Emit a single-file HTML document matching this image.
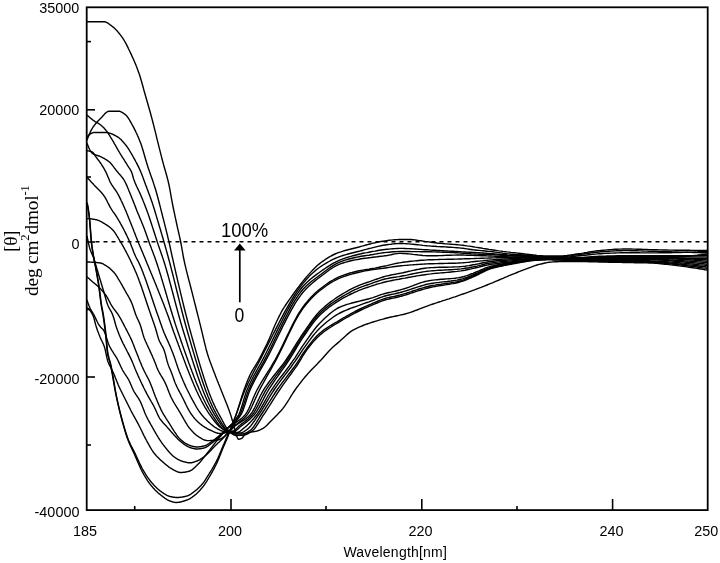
<!DOCTYPE html>
<html>
<head>
<meta charset="utf-8">
<title>CD spectra</title>
<style>
html,body{margin:0;padding:0;background:#fff;}
body{width:720px;height:563px;overflow:hidden;position:relative;font-family:"Liberation Sans",sans-serif;color:#000;}
svg{position:absolute;left:0;top:0;}
.lab{position:absolute;font-size:14.4px;line-height:14.4px;white-space:nowrap;}
.yl{text-align:right;width:70px;left:9.4px;}
.xl{text-align:center;width:60px;}
.ser{font-family:"Liberation Serif",serif;}
</style>
</head>
<body>
<svg width="720" height="563" viewBox="0 0 720 563">
<rect x="0" y="0" width="720" height="563" fill="#fff"/>
<g fill="none" stroke="#000" stroke-width="1.4" stroke-linejoin="round">
<path d="M87.0 202.5 L87.5 204.3 L88.0 206.8 L88.5 210.0 L89.0 213.7 L89.5 217.8 L90.0 222.8 L90.5 229.5 L91.0 236.4 L91.5 242.0 L92.0 246.0 L92.5 249.5 L93.0 252.6 L93.5 255.6 L94.0 258.4 L94.5 260.9 L95.0 263.4 L95.5 265.8 L96.0 268.3 L96.5 271.0 L97.0 273.8 L97.5 276.7 L98.0 279.6 L98.5 282.7 L99.0 286.0 L99.5 289.6 L100.0 293.6 L100.5 297.7 L101.0 301.6 L101.5 305.0 L102.0 307.8 L102.5 310.2 L103.0 312.7 L103.5 315.6 L104.0 318.9 L104.5 322.5 L105.0 326.3 L105.5 330.3 L106.0 334.7 L106.5 340.0 L107.0 345.8 L107.5 350.7 L108.0 353.9 L108.5 356.3 L109.0 358.2 L109.5 359.9 L110.0 361.5 L110.5 363.3 L111.0 365.5 L111.5 367.9 L112.0 370.5 L112.5 373.3 L113.0 376.2 L113.5 379.1 L114.0 382.2 L114.5 385.2 L115.0 388.1 L115.5 391.0 L116.0 393.7 L116.5 396.3 L117.0 398.7 L117.5 401.2 L118.0 403.5 L118.5 405.9 L119.0 408.1 L119.5 410.3 L120.0 412.5 L120.5 414.5 L121.0 416.5 L121.5 418.5 L122.0 420.4 L122.5 422.2 L123.0 424.1 L123.5 425.9 L124.0 427.6 L124.5 429.3 L125.0 431.0 L125.5 432.6 L126.0 434.2 L126.5 435.8 L127.0 437.2 L127.5 438.6 L128.0 440.0 L128.5 441.3 L129.0 442.5 L129.5 443.7 L130.0 444.8 L130.5 445.9 L131.0 447.0 L131.5 448.0 L132.0 449.1 L132.5 450.1 L133.0 451.1 L133.5 452.2 L134.0 453.3 L134.5 454.4 L135.0 455.6 L135.5 456.7 L136.0 457.9 L136.5 459.0 L137.0 460.2 L137.5 461.4 L138.0 462.5 L138.5 463.7 L139.0 464.8 L139.5 465.9 L140.0 467.0 L140.5 468.1 L141.0 469.2 L141.5 470.2 L142.0 471.1 L142.5 472.1 L143.0 473.0 L143.5 473.9 L144.0 474.8 L144.5 475.6 L145.0 476.5 L145.5 477.4 L146.0 478.2 L146.5 479.0 L147.0 479.8 L147.5 480.6 L148.0 481.3 L148.5 482.0 L149.0 482.8 L149.5 483.4 L150.0 484.1 L150.5 484.8 L151.0 485.4 L151.5 486.0 L152.0 486.6 L152.5 487.1 L153.0 487.7 L153.5 488.3 L154.0 488.8 L154.5 489.3 L155.0 489.9 L155.5 490.4 L156.0 490.9 L156.5 491.3 L157.0 491.8 L157.5 492.3 L158.0 492.7 L158.5 493.2 L159.0 493.6 L159.5 494.0 L160.0 494.4 L160.5 494.8 L161.0 495.2 L161.5 495.6 L162.0 496.0 L162.5 496.4 L163.0 496.8 L163.5 497.2 L164.0 497.5 L164.5 497.9 L165.0 498.3 L165.5 498.6 L166.0 498.9 L166.5 499.3 L167.0 499.6 L167.5 499.8 L168.0 500.1 L168.5 500.4 L169.0 500.6 L169.5 500.8 L170.0 501.0 L170.5 501.2 L171.0 501.4 L171.5 501.5 L172.0 501.7 L172.5 501.9 L173.0 502.0 L173.5 502.1 L174.0 502.3 L174.5 502.4 L175.0 502.4 L175.5 502.5 L176.0 502.5 L176.5 502.5 L177.0 502.5 L177.5 502.4 L178.0 502.4 L178.5 502.3 L179.0 502.2 L179.5 502.2 L180.0 502.1 L180.5 502.0 L181.0 501.8 L181.5 501.7 L182.0 501.6 L182.5 501.4 L183.0 501.3 L183.5 501.2 L184.0 501.0 L184.5 500.8 L185.0 500.7 L185.5 500.5 L186.0 500.3 L186.5 500.2 L187.0 500.0 L187.5 499.8 L188.0 499.6 L188.5 499.4 L189.0 499.1 L189.5 498.9 L190.0 498.6 L190.5 498.3 L191.0 497.9 L191.5 497.6 L192.0 497.3 L192.5 496.9 L193.0 496.5 L193.5 496.2 L194.0 495.8 L194.5 495.4 L195.0 495.0 L195.5 494.6 L196.0 494.2 L196.5 493.7 L197.0 493.3 L197.5 492.8 L198.0 492.3 L198.5 491.8 L199.0 491.3 L199.5 490.7 L200.0 490.2 L200.5 489.6 L201.0 489.1 L201.5 488.5 L202.0 487.9 L202.5 487.3 L203.0 486.6 L203.5 486.0 L204.0 485.3 L204.5 484.6 L205.0 483.8 L205.5 483.1 L206.0 482.3 L206.5 481.5 L207.0 480.8 L207.5 480.0 L208.0 479.1 L208.5 478.3 L209.0 477.5 L209.5 476.7 L210.0 475.8 L210.5 475.0 L211.0 474.1 L211.5 473.2 L212.0 472.3 L212.5 471.4 L213.0 470.5 L213.5 469.6 L214.0 468.7 L214.5 467.7 L215.0 466.7 L215.5 465.7 L216.0 464.7 L216.5 463.7 L217.0 462.6 L217.5 461.6 L218.0 460.4 L218.5 459.3 L219.0 458.1 L219.5 456.8 L220.0 455.6 L220.5 454.3 L221.0 453.0 L221.5 451.7 L222.0 450.5 L222.5 449.2 L223.0 448.0 L223.5 446.8 L224.0 445.7 L224.5 444.5 L225.0 443.4 L225.5 442.3 L226.0 441.1 L226.5 440.0 L227.0 438.7 L227.5 437.5 L228.0 436.2 L228.5 434.8 L229.0 433.4 L229.5 432.0 L230.0 430.6 L230.5 429.1 L231.0 427.7 L231.5 426.3 L232.0 425.0 L232.5 423.7 L233.0 422.5 L233.5 421.3 L234.0 420.1 L234.5 418.8 L235.0 417.6 L235.5 416.3 L236.0 415.0 L236.5 413.6 L237.0 412.1 L237.5 410.6 L238.0 409.0 L238.5 407.4 L239.0 405.8 L239.5 404.2 L240.0 402.5 L240.5 400.9 L241.0 399.2 L241.5 397.6 L242.0 396.0 L242.5 394.4 L243.0 392.9 L243.5 391.4 L244.0 390.0 L244.5 388.6 L245.0 387.3 L245.5 385.9 L246.0 384.6 L246.5 383.3 L247.0 382.0 L247.5 380.7 L248.0 379.5 L248.5 378.3 L249.0 377.2 L249.5 376.1 L250.0 375.0 L250.5 374.0 L251.0 373.0 L251.5 372.1 L252.0 371.2 L252.5 370.3 L253.0 369.5 L253.5 368.7 L254.0 367.9 L254.5 367.1 L255.0 366.3 L255.5 365.5 L256.0 364.7 L256.5 363.9 L257.0 363.0 L257.5 362.2 L258.0 361.3 L258.5 360.5 L259.0 359.5 L259.5 358.6 L261.0 355.8 L263.0 351.9 L265.0 347.9 L267.0 343.8 L269.0 339.4 L271.0 334.7 L273.0 329.7 L275.0 325.0 L277.0 320.7 L279.0 316.6 L281.0 312.7 L283.0 309.2 L285.0 306.0 L287.0 303.0 L289.0 300.2 L291.0 297.3 L293.0 294.5 L295.0 291.7 L297.0 289.0 L299.0 286.3 L301.0 283.7 L303.0 281.1 L305.0 278.7 L307.0 276.4 L309.0 274.1 L311.0 271.9 L313.0 269.7 L315.0 267.7 L317.0 265.8 L319.0 264.1 L321.0 262.5 L323.0 261.1 L325.0 259.7 L327.0 258.4 L329.0 257.1 L331.0 256.0 L333.0 255.0 L335.0 254.0 L337.0 253.2 L339.0 252.4 L341.0 251.8 L343.0 251.1 L345.0 250.5 L347.0 250.0 L349.0 249.5 L351.0 249.0 L353.0 248.5 L355.0 248.0 L357.0 247.5 L359.0 247.0 L361.0 246.4 L363.0 245.9 L365.0 245.3 L367.0 244.8 L369.0 244.2 L371.0 243.7 L373.0 243.1 L375.0 242.7 L377.0 242.2 L379.0 241.9 L381.0 241.5 L383.0 241.2 L385.0 240.9 L387.0 240.6 L389.0 240.3 L391.0 240.1 L393.0 239.9 L395.0 239.7 L397.0 239.6 L399.0 239.5 L401.0 239.5 L403.0 239.5 L405.0 239.5 L407.0 239.5 L409.0 239.5 L411.0 239.5 L413.0 239.7 L415.0 239.9 L417.0 240.3 L419.0 240.6 L421.0 240.8 L423.0 241.1 L425.0 241.4 L427.0 241.6 L429.0 241.9 L431.0 242.2 L433.0 242.5 L435.0 242.7 L437.0 243.0 L439.0 243.2 L441.0 243.4 L443.0 243.6 L445.0 243.8 L447.0 243.9 L449.0 244.1 L451.0 244.2 L453.0 244.4 L455.0 244.5 L457.0 244.7 L459.0 244.9 L461.0 245.1 L463.0 245.3 L465.0 245.6 L467.0 245.9 L469.0 246.1 L471.0 246.4 L473.0 246.7 L475.0 247.1 L477.0 247.4 L479.0 247.7 L481.0 248.0 L483.0 248.4 L485.0 248.7 L487.0 249.0 L489.0 249.4 L491.0 249.7 L493.0 250.0 L495.0 250.3 L497.0 250.6 L499.0 250.9 L501.0 251.1 L503.0 251.4 L505.0 251.6 L507.0 251.9 L509.0 252.1 L511.0 252.4 L513.0 252.6 L515.0 252.8 L517.0 253.1 L519.0 253.3 L521.0 253.5 L523.0 253.7 L525.0 254.0 L527.0 254.2 L529.0 254.4 L531.0 254.6 L533.0 254.9 L535.0 255.1 L537.0 255.4 L539.0 255.6 L541.0 255.8 L543.0 256.0 L545.0 256.0 L547.0 256.0 L549.0 256.0 L551.0 256.0 L553.0 256.0 L555.0 256.0 L557.0 256.0 L559.0 256.0 L561.0 256.0 L563.0 255.9 L565.0 255.7 L567.0 255.5 L569.0 255.2 L571.0 254.9 L573.0 254.6 L575.0 254.3 L577.0 253.9 L579.0 253.6 L581.0 253.4 L583.0 253.1 L585.0 252.7 L587.0 252.4 L589.0 252.0 L591.0 251.7 L593.0 251.4 L595.0 251.1 L597.0 250.8 L599.0 250.6 L601.0 250.4 L603.0 250.2 L605.0 250.1 L607.0 249.9 L609.0 249.7 L611.0 249.6 L613.0 249.4 L615.0 249.3 L617.0 249.2 L619.0 249.1 L621.0 249.1 L623.0 249.0 L625.0 249.0 L627.0 249.0 L629.0 249.0 L631.0 249.0 L633.0 249.1 L635.0 249.1 L637.0 249.2 L639.0 249.2 L641.0 249.3 L643.0 249.4 L645.0 249.4 L647.0 249.5 L649.0 249.6 L651.0 249.6 L653.0 249.7 L655.0 249.8 L657.0 249.8 L659.0 249.9 L661.0 249.9 L663.0 250.0 L665.0 250.0 L667.0 250.0 L669.0 250.1 L671.0 250.1 L673.0 250.1 L675.0 250.2 L677.0 250.2 L679.0 250.2 L681.0 250.2 L683.0 250.3 L685.0 250.3 L687.0 250.3 L689.0 250.3 L691.0 250.4 L693.0 250.4 L695.0 250.4 L697.0 250.4 L699.0 250.4 L701.0 250.5 L703.0 250.5 L705.0 250.5 L707.0 250.5"/>
<path d="M87.0 203.5 L87.5 205.4 L88.0 208.1 L88.5 211.5 L89.0 215.3 L89.5 219.5 L90.0 225.4 L90.5 232.3 L91.0 238.9 L91.5 243.7 L92.0 247.5 L92.5 250.8 L93.0 253.8 L93.5 256.8 L94.0 259.5 L94.5 262.1 L95.0 264.7 L95.5 267.2 L96.0 269.9 L96.5 272.7 L97.0 275.6 L97.5 278.5 L98.0 281.5 L98.5 284.7 L99.0 288.1 L99.5 292.0 L100.0 296.0 L100.5 300.0 L101.0 303.7 L101.5 306.8 L102.0 309.5 L102.5 312.1 L103.0 315.0 L103.5 318.3 L104.0 321.8 L104.5 325.6 L105.0 329.6 L105.5 333.8 L106.0 338.7 L106.5 344.3 L107.0 349.5 L107.5 353.1 L108.0 355.6 L108.5 357.7 L109.0 359.5 L109.5 361.1 L110.0 362.9 L110.5 365.0 L111.0 367.4 L111.5 370.0 L112.0 372.7 L112.5 375.5 L113.0 378.4 L113.5 381.3 L114.0 384.2 L114.5 387.1 L115.0 389.9 L115.5 392.5 L116.0 395.0 L116.5 397.3 L117.0 399.6 L117.5 401.8 L118.0 403.9 L118.5 406.0 L119.0 408.0 L119.5 410.0 L120.0 411.9 L120.5 413.8 L121.0 415.7 L121.5 417.5 L122.0 419.3 L122.5 421.1 L123.0 422.9 L123.5 424.6 L124.0 426.4 L124.5 428.1 L125.0 429.7 L125.5 431.4 L126.0 432.9 L126.5 434.5 L127.0 436.0 L127.5 437.4 L128.0 438.7 L128.5 440.0 L129.0 441.2 L129.5 442.4 L130.0 443.4 L130.5 444.5 L131.0 445.5 L131.5 446.5 L132.0 447.4 L132.5 448.4 L133.0 449.3 L133.5 450.3 L134.0 451.3 L134.5 452.3 L135.0 453.3 L135.5 454.4 L136.0 455.5 L136.5 456.6 L137.0 457.6 L137.5 458.7 L138.0 459.8 L138.5 460.9 L139.0 462.0 L139.5 463.1 L140.0 464.1 L140.5 465.1 L141.0 466.1 L141.5 467.1 L142.0 468.1 L142.5 469.0 L143.0 469.8 L143.5 470.7 L144.0 471.5 L144.5 472.4 L145.0 473.2 L145.5 474.0 L146.0 474.8 L146.5 475.6 L147.0 476.3 L147.5 477.1 L148.0 477.8 L148.5 478.5 L149.0 479.2 L149.5 479.9 L150.0 480.5 L150.5 481.2 L151.0 481.8 L151.5 482.4 L152.0 482.9 L152.5 483.5 L153.0 484.1 L153.5 484.6 L154.0 485.2 L154.5 485.7 L155.0 486.2 L155.5 486.7 L156.0 487.2 L156.5 487.7 L157.0 488.2 L157.5 488.7 L158.0 489.1 L158.5 489.5 L159.0 490.0 L159.5 490.4 L160.0 490.8 L160.5 491.1 L161.0 491.5 L161.5 491.9 L162.0 492.2 L162.5 492.6 L163.0 492.9 L163.5 493.2 L164.0 493.6 L164.5 493.9 L165.0 494.2 L165.5 494.5 L166.0 494.8 L166.5 495.1 L167.0 495.4 L167.5 495.6 L168.0 495.8 L168.5 496.0 L169.0 496.2 L169.5 496.4 L170.0 496.5 L170.5 496.6 L171.0 496.7 L171.5 496.8 L172.0 496.9 L172.5 497.0 L173.0 497.1 L173.5 497.2 L174.0 497.3 L174.5 497.3 L175.0 497.4 L175.5 497.4 L176.0 497.5 L176.5 497.5 L177.0 497.5 L177.5 497.5 L178.0 497.5 L178.5 497.5 L179.0 497.4 L179.5 497.4 L180.0 497.3 L180.5 497.3 L181.0 497.2 L181.5 497.1 L182.0 497.1 L182.5 497.0 L183.0 496.9 L183.5 496.8 L184.0 496.7 L184.5 496.6 L185.0 496.5 L185.5 496.4 L186.0 496.2 L186.5 496.1 L187.0 496.0 L187.5 495.9 L188.0 495.7 L188.5 495.5 L189.0 495.2 L189.5 495.0 L190.0 494.7 L190.5 494.3 L191.0 494.0 L191.5 493.7 L192.0 493.3 L192.5 492.9 L193.0 492.5 L193.5 492.2 L194.0 491.8 L194.5 491.4 L195.0 491.0 L195.5 490.6 L196.0 490.2 L196.5 489.8 L197.0 489.4 L197.5 488.9 L198.0 488.5 L198.5 488.0 L199.0 487.5 L199.5 487.0 L200.0 486.5 L200.5 486.0 L201.0 485.5 L201.5 484.9 L202.0 484.3 L202.5 483.8 L203.0 483.1 L203.5 482.5 L204.0 481.8 L204.5 481.1 L205.0 480.4 L205.5 479.6 L206.0 478.8 L206.5 478.0 L207.0 477.2 L207.5 476.4 L208.0 475.6 L208.5 474.8 L209.0 474.0 L209.5 473.2 L210.0 472.4 L210.5 471.6 L211.0 470.8 L211.5 470.0 L212.0 469.1 L212.5 468.3 L213.0 467.4 L213.5 466.6 L214.0 465.7 L214.5 464.8 L215.0 463.9 L215.5 463.0 L216.0 462.1 L216.5 461.1 L217.0 460.1 L217.5 459.1 L218.0 458.0 L218.5 456.9 L219.0 455.7 L219.5 454.6 L220.0 453.3 L220.5 452.1 L221.0 450.9 L221.5 449.6 L222.0 448.4 L222.5 447.2 L223.0 446.0 L223.5 444.8 L224.0 443.7 L224.5 442.5 L225.0 441.3 L225.5 440.2 L226.0 439.0 L226.5 437.8 L227.0 436.7 L227.5 435.5 L228.0 434.4 L228.5 433.3 L229.0 432.2 L229.5 431.1 L230.0 429.9 L230.5 428.8 L231.0 427.7 L231.5 426.6 L232.0 425.4 L232.5 424.2 L233.0 423.0 L233.5 421.7 L234.0 420.5 L234.5 419.1 L235.0 417.8 L235.5 416.4 L236.0 415.0 L236.5 413.6 L237.0 412.1 L237.5 410.7 L238.0 409.2 L238.5 407.8 L239.0 406.3 L239.5 404.8 L240.0 403.4 L240.5 401.9 L241.0 400.5 L241.5 399.1 L242.0 397.7 L242.5 396.3 L243.0 395.0 L243.5 393.7 L244.0 392.4 L244.5 391.2 L245.0 390.0 L245.5 388.8 L246.0 387.7 L246.5 386.6 L247.0 385.5 L247.5 384.4 L248.0 383.3 L248.5 382.3 L249.0 381.2 L249.5 380.2 L250.0 379.2 L250.5 378.1 L251.0 377.1 L251.5 376.2 L252.0 375.2 L252.5 374.2 L253.0 373.2 L253.5 372.3 L254.0 371.3 L254.5 370.4 L255.0 369.4 L255.5 368.5 L256.0 367.5 L256.5 366.6 L257.0 365.7 L257.5 364.7 L258.0 363.8 L258.5 362.8 L259.0 361.9 L259.5 360.9 L261.0 358.1 L263.0 354.2 L265.0 350.3 L267.0 346.4 L269.0 342.4 L271.0 338.5 L273.0 334.5 L275.0 330.6 L277.0 326.6 L279.0 322.7 L281.0 318.9 L283.0 315.1 L285.0 311.4 L287.0 307.8 L289.0 304.3 L291.0 300.9 L293.0 297.6 L295.0 294.4 L297.0 291.4 L299.0 288.6 L301.0 285.9 L303.0 283.4 L305.0 281.0 L307.0 278.8 L309.0 276.6 L311.0 274.6 L313.0 272.7 L315.0 270.9 L317.0 269.2 L319.0 267.7 L321.0 266.3 L323.0 265.0 L325.0 263.8 L327.0 262.6 L329.0 261.5 L331.0 260.4 L333.0 259.4 L335.0 258.5 L337.0 257.7 L339.0 256.9 L341.0 256.1 L343.0 255.5 L345.0 254.9 L347.0 254.3 L349.0 253.8 L351.0 253.3 L353.0 252.8 L355.0 252.3 L357.0 251.8 L359.0 251.3 L361.0 250.7 L363.0 250.2 L365.0 249.6 L367.0 249.1 L369.0 248.5 L371.0 248.1 L373.0 247.6 L375.0 247.1 L377.0 246.6 L379.0 246.1 L381.0 245.7 L383.0 245.3 L385.0 245.0 L387.0 244.7 L389.0 244.4 L391.0 244.2 L393.0 243.9 L395.0 243.7 L397.0 243.6 L399.0 243.5 L401.0 243.5 L403.0 243.6 L405.0 243.6 L407.0 243.8 L409.0 243.9 L411.0 244.1 L413.0 244.3 L415.0 244.5 L417.0 244.7 L419.0 244.9 L421.0 245.1 L423.0 245.4 L425.0 245.6 L427.0 245.8 L429.0 245.9 L431.0 246.1 L433.0 246.2 L435.0 246.3 L437.0 246.5 L439.0 246.6 L441.0 246.7 L443.0 246.8 L445.0 246.9 L447.0 247.0 L449.0 247.2 L451.0 247.3 L453.0 247.4 L455.0 247.6 L457.0 247.7 L459.0 247.9 L461.0 248.1 L463.0 248.3 L465.0 248.6 L467.0 248.9 L469.0 249.2 L471.0 249.5 L473.0 249.8 L475.0 250.0 L477.0 250.2 L479.0 250.4 L481.0 250.6 L483.0 250.8 L485.0 251.0 L487.0 251.2 L489.0 251.4 L491.0 251.6 L493.0 251.8 L495.0 252.1 L497.0 252.4 L499.0 252.6 L501.0 252.9 L503.0 253.2 L505.0 253.4 L507.0 253.7 L509.0 253.9 L511.0 254.2 L513.0 254.3 L515.0 254.5 L517.0 254.6 L519.0 254.7 L521.0 254.8 L523.0 254.9 L525.0 255.0 L527.0 255.1 L529.0 255.2 L531.0 255.3 L533.0 255.4 L535.0 255.5 L537.0 255.7 L539.0 255.9 L541.0 256.2 L543.0 256.5 L545.0 256.7 L547.0 257.0 L549.0 257.2 L551.0 257.4 L553.0 257.6 L555.0 257.7 L557.0 257.9 L559.0 258.0 L561.0 258.0 L563.0 258.1 L565.0 258.1 L567.0 258.2 L569.0 258.2 L571.0 258.2 L573.0 258.3 L575.0 258.3 L577.0 258.3 L579.0 258.3 L581.0 258.3 L583.0 258.3 L585.0 258.2 L587.0 258.1 L589.0 258.0 L591.0 257.8 L593.0 257.7 L595.0 257.6 L597.0 257.5 L599.0 257.4 L601.0 257.4 L603.0 257.3 L605.0 257.3 L607.0 257.3 L609.0 257.2 L611.0 257.2 L613.0 257.2 L615.0 257.2 L617.0 257.1 L619.0 257.1 L621.0 257.1 L623.0 257.1 L625.0 257.1 L627.0 257.1 L629.0 257.1 L631.0 257.1 L633.0 257.2 L635.0 257.2 L637.0 257.2 L639.0 257.3 L641.0 257.3 L643.0 257.4 L645.0 257.4 L647.0 257.5 L649.0 257.5 L651.0 257.6 L653.0 257.6 L655.0 257.7 L657.0 257.8 L659.0 257.9 L661.0 258.0 L663.0 258.1 L665.0 258.2 L667.0 258.4 L669.0 258.5 L671.0 258.6 L673.0 258.8 L675.0 258.9 L677.0 259.0 L679.0 259.2 L681.0 259.3 L683.0 259.4 L685.0 259.6 L687.0 259.7 L689.0 259.8 L691.0 260.0 L693.0 260.1 L695.0 260.3 L697.0 260.4 L699.0 260.6 L701.0 260.7 L703.0 260.9 L705.0 261.1 L707.0 261.2"/>
<path d="M87.0 308.0 L87.5 308.1 L88.0 308.3 L88.5 308.6 L89.0 309.1 L89.5 309.7 L90.0 310.3 L90.5 311.1 L91.0 311.9 L91.5 312.7 L92.0 313.6 L92.5 314.5 L93.0 315.5 L93.5 316.8 L94.0 318.4 L94.5 320.3 L95.0 322.2 L95.5 324.1 L96.0 325.9 L96.5 327.5 L97.0 329.0 L97.5 330.4 L98.0 331.7 L98.5 333.1 L99.0 334.4 L99.5 335.6 L100.0 336.9 L100.5 338.1 L101.0 339.2 L101.5 340.3 L102.0 341.3 L102.5 342.3 L103.0 343.4 L103.5 344.6 L104.0 345.8 L104.5 347.2 L105.0 348.9 L105.5 351.0 L106.0 353.4 L106.5 355.9 L107.0 358.2 L107.5 360.2 L108.0 361.7 L108.5 363.0 L109.0 364.1 L109.5 365.1 L110.0 366.1 L110.5 367.0 L111.0 368.0 L111.5 369.0 L112.0 370.0 L112.5 371.1 L113.0 372.1 L113.5 373.2 L114.0 374.3 L114.5 375.5 L115.0 376.7 L115.5 378.0 L116.0 379.2 L116.5 380.5 L117.0 381.8 L117.5 383.0 L118.0 384.3 L118.5 385.4 L119.0 386.6 L119.5 387.6 L120.0 388.7 L120.5 389.8 L121.0 390.8 L121.5 391.8 L122.0 392.8 L122.5 393.8 L123.0 394.8 L123.5 395.8 L124.0 396.8 L124.5 397.7 L125.0 398.8 L125.5 399.8 L126.0 400.8 L126.5 401.8 L127.0 402.8 L127.5 403.8 L128.0 404.8 L128.5 405.8 L129.0 406.8 L129.5 407.8 L130.0 408.8 L130.5 409.8 L131.0 410.8 L131.5 411.7 L132.0 412.7 L132.5 413.6 L133.0 414.5 L133.5 415.4 L134.0 416.3 L134.5 417.2 L135.0 418.1 L135.5 419.0 L136.0 419.9 L136.5 420.8 L137.0 421.7 L137.5 422.7 L138.0 423.6 L138.5 424.5 L139.0 425.5 L139.5 426.5 L140.0 427.5 L140.5 428.5 L141.0 429.5 L141.5 430.5 L142.0 431.5 L142.5 432.6 L143.0 433.6 L143.5 434.6 L144.0 435.7 L144.5 436.7 L145.0 437.6 L145.5 438.6 L146.0 439.5 L146.5 440.5 L147.0 441.4 L147.5 442.3 L148.0 443.2 L148.5 444.1 L149.0 445.0 L149.5 445.9 L150.0 446.8 L150.5 447.7 L151.0 448.5 L151.5 449.4 L152.0 450.2 L152.5 450.9 L153.0 451.7 L153.5 452.3 L154.0 453.0 L154.5 453.6 L155.0 454.2 L155.5 454.8 L156.0 455.4 L156.5 455.9 L157.0 456.5 L157.5 457.0 L158.0 457.5 L158.5 458.0 L159.0 458.5 L159.5 459.0 L160.0 459.5 L160.5 459.9 L161.0 460.4 L161.5 460.8 L162.0 461.3 L162.5 461.7 L163.0 462.1 L163.5 462.6 L164.0 463.0 L164.5 463.4 L165.0 463.9 L165.5 464.3 L166.0 464.7 L166.5 465.1 L167.0 465.5 L167.5 465.9 L168.0 466.3 L168.5 466.7 L169.0 467.1 L169.5 467.4 L170.0 467.8 L170.5 468.1 L171.0 468.4 L171.5 468.7 L172.0 469.0 L172.5 469.3 L173.0 469.5 L173.5 469.8 L174.0 470.1 L174.5 470.4 L175.0 470.6 L175.5 470.9 L176.0 471.2 L176.5 471.4 L177.0 471.6 L177.5 471.8 L178.0 472.0 L178.5 472.2 L179.0 472.3 L179.5 472.4 L180.0 472.5 L180.5 472.5 L181.0 472.5 L181.5 472.5 L182.0 472.5 L182.5 472.4 L183.0 472.4 L183.5 472.3 L184.0 472.3 L184.5 472.2 L185.0 472.1 L185.5 472.0 L186.0 472.0 L186.5 471.9 L187.0 471.8 L187.5 471.6 L188.0 471.5 L188.5 471.4 L189.0 471.3 L189.5 471.2 L190.0 471.0 L190.5 470.7 L191.0 470.4 L191.5 470.1 L192.0 469.8 L192.5 469.4 L193.0 469.0 L193.5 468.6 L194.0 468.1 L194.5 467.7 L195.0 467.2 L195.5 466.7 L196.0 466.2 L196.5 465.8 L197.0 465.3 L197.5 464.8 L198.0 464.3 L198.5 463.8 L199.0 463.3 L199.5 462.7 L200.0 462.2 L200.5 461.6 L201.0 461.0 L201.5 460.4 L202.0 459.8 L202.5 459.1 L203.0 458.5 L203.5 457.9 L204.0 457.2 L204.5 456.6 L205.0 455.9 L205.5 455.3 L206.0 454.6 L206.5 454.0 L207.0 453.4 L207.5 452.8 L208.0 452.1 L208.5 451.5 L209.0 450.9 L209.5 450.2 L210.0 449.6 L210.5 448.9 L211.0 448.3 L211.5 447.6 L212.0 447.0 L212.5 446.3 L213.0 445.6 L213.5 445.0 L214.0 444.3 L214.5 443.7 L215.0 443.0 L215.5 442.4 L216.0 441.7 L216.5 441.1 L217.0 440.5 L217.5 439.8 L218.0 439.2 L218.5 438.6 L219.0 438.0 L219.5 437.4 L220.0 436.8 L220.5 436.2 L221.0 435.7 L221.5 435.1 L222.0 434.5 L222.5 434.0 L223.0 433.4 L223.5 432.8 L224.0 432.3 L224.5 431.7 L225.0 431.2 L225.5 430.6 L226.0 430.0 L226.5 429.4 L227.0 428.9 L227.5 428.3 L228.0 427.8 L228.5 427.3 L229.0 426.8 L229.5 426.2 L230.0 425.7 L230.5 425.2 L231.0 424.7 L231.5 424.2 L232.0 423.7 L232.5 423.1 L233.0 422.6 L233.5 422.0 L234.0 421.4 L234.5 420.8 L235.0 420.2 L235.5 419.6 L236.0 418.9 L236.5 418.2 L237.0 417.4 L237.5 416.7 L238.0 415.9 L238.5 415.0 L239.0 414.0 L239.5 412.9 L240.0 411.7 L240.5 410.3 L241.0 408.8 L241.5 407.3 L242.0 405.7 L242.5 404.0 L243.0 402.3 L243.5 400.6 L244.0 398.9 L244.5 397.3 L245.0 395.7 L245.5 394.1 L246.0 392.6 L246.5 391.3 L247.0 390.0 L247.5 388.8 L248.0 387.7 L248.5 386.5 L249.0 385.4 L249.5 384.4 L250.0 383.3 L250.5 382.3 L251.0 381.2 L251.5 380.2 L252.0 379.2 L252.5 378.3 L253.0 377.3 L253.5 376.4 L254.0 375.4 L254.5 374.5 L255.0 373.6 L255.5 372.7 L256.0 371.8 L256.5 370.9 L257.0 370.0 L257.5 369.1 L258.0 368.2 L258.5 367.3 L259.0 366.4 L259.5 365.5 L261.0 362.8 L263.0 359.1 L265.0 355.2 L267.0 351.3 L269.0 347.3 L271.0 343.2 L273.0 339.1 L275.0 335.0 L277.0 330.9 L279.0 326.8 L281.0 322.8 L283.0 318.8 L285.0 314.9 L287.0 311.0 L289.0 307.4 L291.0 303.8 L293.0 300.4 L295.0 297.2 L297.0 294.1 L299.0 291.3 L301.0 288.7 L303.0 286.3 L305.0 284.2 L307.0 282.2 L309.0 280.4 L311.0 278.7 L313.0 277.1 L315.0 275.6 L317.0 274.1 L319.0 272.7 L321.0 271.3 L323.0 269.9 L325.0 268.5 L327.0 267.2 L329.0 265.9 L331.0 264.6 L333.0 263.4 L335.0 262.3 L337.0 261.3 L339.0 260.4 L341.0 259.6 L343.0 258.9 L345.0 258.2 L347.0 257.5 L349.0 256.9 L351.0 256.3 L353.0 255.7 L355.0 255.2 L357.0 254.7 L359.0 254.2 L361.0 253.8 L363.0 253.3 L365.0 252.9 L367.0 252.6 L369.0 252.2 L371.0 251.8 L373.0 251.4 L375.0 251.1 L377.0 250.7 L379.0 250.3 L381.0 250.0 L383.0 249.7 L385.0 249.5 L387.0 249.3 L389.0 249.1 L391.0 248.9 L393.0 248.7 L395.0 248.6 L397.0 248.5 L399.0 248.4 L401.0 248.4 L403.0 248.4 L405.0 248.5 L407.0 248.6 L409.0 248.6 L411.0 248.7 L413.0 248.9 L415.0 249.0 L417.0 249.1 L419.0 249.3 L421.0 249.4 L423.0 249.6 L425.0 249.7 L427.0 249.8 L429.0 249.9 L431.0 250.1 L433.0 250.2 L435.0 250.3 L437.0 250.4 L439.0 250.5 L441.0 250.6 L443.0 250.7 L445.0 250.9 L447.0 251.0 L449.0 251.1 L451.0 251.2 L453.0 251.3 L455.0 251.4 L457.0 251.5 L459.0 251.6 L461.0 251.8 L463.0 251.9 L465.0 252.0 L467.0 252.1 L469.0 252.2 L471.0 252.3 L473.0 252.4 L475.0 252.5 L477.0 252.6 L479.0 252.7 L481.0 252.9 L483.0 253.0 L485.0 253.1 L487.0 253.3 L489.0 253.4 L491.0 253.6 L493.0 253.7 L495.0 253.9 L497.0 254.1 L499.0 254.3 L501.0 254.5 L503.0 254.6 L505.0 254.8 L507.0 255.0 L509.0 255.1 L511.0 255.3 L513.0 255.4 L515.0 255.5 L517.0 255.6 L519.0 255.6 L521.0 255.7 L523.0 255.8 L525.0 255.8 L527.0 255.8 L529.0 255.9 L531.0 255.9 L533.0 256.0 L535.0 256.1 L537.0 256.2 L539.0 256.3 L541.0 256.4 L543.0 256.5 L545.0 256.6 L547.0 256.6 L549.0 256.6 L551.0 256.6 L553.0 256.6 L555.0 256.6 L557.0 256.6 L559.0 256.6 L561.0 256.6 L563.0 256.5 L565.0 256.4 L567.0 256.2 L569.0 255.9 L571.0 255.7 L573.0 255.4 L575.0 255.1 L577.0 254.8 L579.0 254.6 L581.0 254.3 L583.0 254.1 L585.0 253.8 L587.0 253.5 L589.0 253.2 L591.0 252.9 L593.0 252.6 L595.0 252.4 L597.0 252.2 L599.0 252.0 L601.0 251.8 L603.0 251.7 L605.0 251.5 L607.0 251.4 L609.0 251.2 L611.0 251.1 L613.0 251.0 L615.0 250.9 L617.0 250.8 L619.0 250.7 L621.0 250.7 L623.0 250.6 L625.0 250.6 L627.0 250.6 L629.0 250.6 L631.0 250.7 L633.0 250.7 L635.0 250.8 L637.0 250.8 L639.0 250.9 L641.0 250.9 L643.0 251.0 L645.0 251.1 L647.0 251.1 L649.0 251.2 L651.0 251.2 L653.0 251.3 L655.0 251.3 L657.0 251.4 L659.0 251.5 L661.0 251.5 L663.0 251.6 L665.0 251.7 L667.0 251.7 L669.0 251.8 L671.0 251.8 L673.0 251.9 L675.0 252.0 L677.0 252.0 L679.0 252.1 L681.0 252.1 L683.0 252.2 L685.0 252.3 L687.0 252.3 L689.0 252.4 L691.0 252.4 L693.0 252.5 L695.0 252.5 L697.0 252.6 L699.0 252.6 L701.0 252.7 L703.0 252.7 L705.0 252.8 L707.0 252.8"/>
<path d="M87.0 300.0 L87.5 301.5 L88.0 303.0 L88.5 304.3 L89.0 305.7 L89.5 306.9 L90.0 308.0 L90.5 309.0 L91.0 309.9 L91.5 310.8 L92.0 311.6 L92.5 312.4 L93.0 313.3 L93.5 314.1 L94.0 315.0 L94.5 316.0 L95.0 317.0 L95.5 318.1 L96.0 319.1 L96.5 320.2 L97.0 321.3 L97.5 322.3 L98.0 323.3 L98.5 324.2 L99.0 325.0 L99.5 325.7 L100.0 326.3 L100.5 326.9 L101.0 327.4 L101.5 327.9 L102.0 328.4 L102.5 328.9 L103.0 329.5 L103.5 330.2 L104.0 331.0 L104.5 332.0 L105.0 333.2 L105.5 334.6 L106.0 336.1 L106.5 337.7 L107.0 339.3 L107.5 340.9 L108.0 342.4 L108.5 343.8 L109.0 345.0 L109.5 346.1 L110.0 347.1 L110.5 348.0 L111.0 348.9 L111.5 349.8 L112.0 350.6 L112.5 351.4 L113.0 352.2 L113.5 353.0 L114.0 353.8 L114.5 354.5 L115.0 355.3 L115.5 356.1 L116.0 356.9 L116.5 357.7 L117.0 358.6 L117.5 359.5 L118.0 360.5 L118.5 361.5 L119.0 362.6 L119.5 363.7 L120.0 364.8 L120.5 365.9 L121.0 367.0 L121.5 368.0 L122.0 369.0 L122.5 370.0 L123.0 370.9 L123.5 371.7 L124.0 372.5 L124.5 373.3 L125.0 374.0 L125.5 374.8 L126.0 375.5 L126.5 376.3 L127.0 377.0 L127.5 377.8 L128.0 378.7 L128.5 379.5 L129.0 380.5 L129.5 381.5 L130.0 382.6 L130.5 383.7 L131.0 384.9 L131.5 386.1 L132.0 387.3 L132.5 388.4 L133.0 389.5 L133.5 390.5 L134.0 391.5 L134.5 392.3 L135.0 393.1 L135.5 393.9 L136.0 394.7 L136.5 395.4 L137.0 396.1 L137.5 396.9 L138.0 397.6 L138.5 398.4 L139.0 399.2 L139.5 400.1 L140.0 401.0 L140.5 402.0 L141.0 403.1 L141.5 404.3 L142.0 405.5 L142.5 406.8 L143.0 408.0 L143.5 409.3 L144.0 410.6 L144.5 411.9 L145.0 413.2 L145.5 414.3 L146.0 415.5 L146.5 416.5 L147.0 417.5 L147.5 418.5 L148.0 419.5 L148.5 420.4 L149.0 421.3 L149.5 422.2 L150.0 423.1 L150.5 424.0 L151.0 424.9 L151.5 425.7 L152.0 426.6 L152.5 427.5 L153.0 428.4 L153.5 429.3 L154.0 430.2 L154.5 431.1 L155.0 431.9 L155.5 432.8 L156.0 433.7 L156.5 434.5 L157.0 435.4 L157.5 436.2 L158.0 437.0 L158.5 437.8 L159.0 438.6 L159.5 439.4 L160.0 440.2 L160.5 440.9 L161.0 441.7 L161.5 442.4 L162.0 443.1 L162.5 443.8 L163.0 444.4 L163.5 445.1 L164.0 445.7 L164.5 446.3 L165.0 447.0 L165.5 447.6 L166.0 448.3 L166.5 448.9 L167.0 449.5 L167.5 450.1 L168.0 450.7 L168.5 451.3 L169.0 451.9 L169.5 452.5 L170.0 453.0 L170.5 453.6 L171.0 454.1 L171.5 454.6 L172.0 455.1 L172.5 455.5 L173.0 456.0 L173.5 456.4 L174.0 456.8 L174.5 457.2 L175.0 457.5 L175.5 457.8 L176.0 458.2 L176.5 458.5 L177.0 458.8 L177.5 459.1 L178.0 459.4 L178.5 459.6 L179.0 459.9 L179.5 460.2 L180.0 460.4 L180.5 460.6 L181.0 460.8 L181.5 461.0 L182.0 461.2 L182.5 461.4 L183.0 461.5 L183.5 461.6 L184.0 461.8 L184.5 461.9 L185.0 462.0 L185.5 462.2 L186.0 462.3 L186.5 462.4 L187.0 462.5 L187.5 462.6 L188.0 462.7 L188.5 462.7 L189.0 462.8 L189.5 462.8 L190.0 462.8 L190.5 462.8 L191.0 462.7 L191.5 462.7 L192.0 462.6 L192.5 462.5 L193.0 462.4 L193.5 462.2 L194.0 462.1 L194.5 461.9 L195.0 461.7 L195.5 461.5 L196.0 461.4 L196.5 461.2 L197.0 461.0 L197.5 460.8 L198.0 460.6 L198.5 460.4 L199.0 460.1 L199.5 459.8 L200.0 459.5 L200.5 459.2 L201.0 458.9 L201.5 458.6 L202.0 458.2 L202.5 457.9 L203.0 457.5 L203.5 457.1 L204.0 456.8 L204.5 456.4 L205.0 456.0 L205.5 455.6 L206.0 455.2 L206.5 454.8 L207.0 454.3 L207.5 453.8 L208.0 453.3 L208.5 452.9 L209.0 452.3 L209.5 451.8 L210.0 451.3 L210.5 450.8 L211.0 450.2 L211.5 449.7 L212.0 449.1 L212.5 448.6 L213.0 448.1 L213.5 447.5 L214.0 447.0 L214.5 446.5 L215.0 446.0 L215.5 445.5 L216.0 445.0 L216.5 444.5 L217.0 444.1 L217.5 443.6 L218.0 443.1 L218.5 442.6 L219.0 442.2 L219.5 441.7 L220.0 441.2 L220.5 440.7 L221.0 440.2 L221.5 439.7 L222.0 439.2 L222.5 438.7 L223.0 438.2 L223.5 437.7 L224.0 437.1 L224.5 436.6 L225.0 436.0 L225.5 435.4 L226.0 434.8 L226.5 434.3 L227.0 433.7 L227.5 433.1 L228.0 432.5 L228.5 431.9 L229.0 431.3 L229.5 430.7 L230.0 430.1 L230.5 429.4 L231.0 428.8 L231.5 428.1 L232.0 427.5 L232.5 426.8 L233.0 426.1 L233.5 425.4 L234.0 424.7 L234.5 424.0 L235.0 423.2 L235.5 422.5 L236.0 421.7 L236.5 420.9 L237.0 420.0 L237.5 419.2 L238.0 418.3 L238.5 417.4 L239.0 416.5 L239.5 415.6 L240.0 414.6 L240.5 413.5 L241.0 412.3 L241.5 411.1 L242.0 409.7 L242.5 408.3 L243.0 406.8 L243.5 405.3 L244.0 403.7 L244.5 402.1 L245.0 400.5 L245.5 399.0 L246.0 397.4 L246.5 395.9 L247.0 394.4 L247.5 393.0 L248.0 391.7 L248.5 390.5 L249.0 389.3 L249.5 388.2 L250.0 387.1 L250.5 386.0 L251.0 384.9 L251.5 383.9 L252.0 382.9 L252.5 381.9 L253.0 380.9 L253.5 379.9 L254.0 378.9 L254.5 378.0 L255.0 377.1 L255.5 376.1 L256.0 375.2 L256.5 374.3 L257.0 373.4 L257.5 372.5 L258.0 371.6 L258.5 370.7 L259.0 369.9 L259.5 369.0 L261.0 366.3 L263.0 362.8 L265.0 359.1 L267.0 355.2 L269.0 351.3 L271.0 347.3 L273.0 343.2 L275.0 339.0 L277.0 334.9 L279.0 330.8 L281.0 326.6 L283.0 322.6 L285.0 318.6 L287.0 314.7 L289.0 310.9 L291.0 307.2 L293.0 303.7 L295.0 300.4 L297.0 297.3 L299.0 294.4 L301.0 291.7 L303.0 289.3 L305.0 287.2 L307.0 285.3 L309.0 283.5 L311.0 281.8 L313.0 280.2 L315.0 278.7 L317.0 277.2 L319.0 275.7 L321.0 274.3 L323.0 272.8 L325.0 271.3 L327.0 269.8 L329.0 268.3 L331.0 266.9 L333.0 265.6 L335.0 264.4 L337.0 263.3 L339.0 262.4 L341.0 261.6 L343.0 260.9 L345.0 260.2 L347.0 259.6 L349.0 259.0 L351.0 258.5 L353.0 258.0 L355.0 257.5 L357.0 257.1 L359.0 256.7 L361.0 256.3 L363.0 256.0 L365.0 255.7 L367.0 255.4 L369.0 255.2 L371.0 254.8 L373.0 254.5 L375.0 254.1 L377.0 253.8 L379.0 253.4 L381.0 253.1 L383.0 252.8 L385.0 252.6 L387.0 252.4 L389.0 252.2 L391.0 252.0 L393.0 251.8 L395.0 251.7 L397.0 251.6 L399.0 251.5 L401.0 251.5 L403.0 251.5 L405.0 251.5 L407.0 251.5 L409.0 251.5 L411.0 251.6 L413.0 251.6 L415.0 251.6 L417.0 251.6 L419.0 251.6 L421.0 251.7 L423.0 251.7 L425.0 251.7 L427.0 251.8 L429.0 251.8 L431.0 251.8 L433.0 251.9 L435.0 251.9 L437.0 252.0 L439.0 252.0 L441.0 252.1 L443.0 252.2 L445.0 252.3 L447.0 252.4 L449.0 252.4 L451.0 252.5 L453.0 252.6 L455.0 252.7 L457.0 252.8 L459.0 252.9 L461.0 253.1 L463.0 253.2 L465.0 253.3 L467.0 253.5 L469.0 253.6 L471.0 253.8 L473.0 253.9 L475.0 254.0 L477.0 254.1 L479.0 254.2 L481.0 254.2 L483.0 254.3 L485.0 254.3 L487.0 254.4 L489.0 254.5 L491.0 254.5 L493.0 254.6 L495.0 254.8 L497.0 254.9 L499.0 255.0 L501.0 255.2 L503.0 255.3 L505.0 255.5 L507.0 255.6 L509.0 255.7 L511.0 255.8 L513.0 255.9 L515.0 256.0 L517.0 256.0 L519.0 256.1 L521.0 256.1 L523.0 256.1 L525.0 256.2 L527.0 256.2 L529.0 256.2 L531.0 256.2 L533.0 256.3 L535.0 256.3 L537.0 256.4 L539.0 256.6 L541.0 256.8 L543.0 257.1 L545.0 257.4 L547.0 257.6 L549.0 257.8 L551.0 258.0 L553.0 258.1 L555.0 258.3 L557.0 258.5 L559.0 258.6 L561.0 258.7 L563.0 258.8 L565.0 259.0 L567.0 259.1 L569.0 259.2 L571.0 259.3 L573.0 259.4 L575.0 259.4 L577.0 259.5 L579.0 259.5 L581.0 259.5 L583.0 259.5 L585.0 259.4 L587.0 259.4 L589.0 259.3 L591.0 259.3 L593.0 259.2 L595.0 259.2 L597.0 259.1 L599.0 259.1 L601.0 259.1 L603.0 259.1 L605.0 259.1 L607.0 259.1 L609.0 259.1 L611.0 259.1 L613.0 259.1 L615.0 259.1 L617.0 259.1 L619.0 259.1 L621.0 259.1 L623.0 259.1 L625.0 259.1 L627.0 259.1 L629.0 259.1 L631.0 259.2 L633.0 259.2 L635.0 259.2 L637.0 259.2 L639.0 259.3 L641.0 259.3 L643.0 259.4 L645.0 259.4 L647.0 259.5 L649.0 259.5 L651.0 259.6 L653.0 259.6 L655.0 259.7 L657.0 259.8 L659.0 260.0 L661.0 260.1 L663.0 260.2 L665.0 260.4 L667.0 260.5 L669.0 260.7 L671.0 260.8 L673.0 261.0 L675.0 261.2 L677.0 261.3 L679.0 261.5 L681.0 261.7 L683.0 261.8 L685.0 262.0 L687.0 262.2 L689.0 262.4 L691.0 262.5 L693.0 262.7 L695.0 262.9 L697.0 263.1 L699.0 263.3 L701.0 263.5 L703.0 263.7 L705.0 263.9 L707.0 264.2"/>
<path d="M87.0 236.0 L87.5 238.6 L88.0 241.0 L88.5 243.3 L89.0 245.4 L89.5 247.4 L90.0 249.1 L90.5 250.6 L91.0 251.8 L91.5 252.9 L92.0 254.0 L92.5 255.1 L93.0 256.2 L93.5 257.6 L94.0 259.1 L94.5 260.7 L95.0 262.4 L95.5 264.1 L96.0 265.8 L96.5 267.5 L97.0 269.2 L97.5 270.8 L98.0 272.5 L98.5 274.2 L99.0 275.8 L99.5 277.5 L100.0 279.2 L100.5 280.8 L101.0 282.5 L101.5 284.2 L102.0 285.8 L102.5 287.5 L103.0 289.2 L103.5 290.8 L104.0 292.5 L104.5 294.2 L105.0 296.0 L105.5 297.8 L106.0 299.6 L106.5 301.3 L107.0 302.9 L107.5 304.3 L108.0 305.6 L108.5 306.7 L109.0 307.7 L109.5 308.7 L110.0 309.6 L110.5 310.4 L111.0 311.3 L111.5 312.3 L112.0 313.3 L112.5 314.4 L113.0 315.7 L113.5 317.2 L114.0 318.8 L114.5 320.6 L115.0 322.5 L115.5 324.3 L116.0 326.0 L116.5 327.5 L117.0 328.9 L117.5 330.3 L118.0 331.6 L118.5 332.9 L119.0 334.2 L119.5 335.4 L120.0 336.6 L120.5 337.7 L121.0 338.9 L121.5 340.0 L122.0 341.1 L122.5 342.1 L123.0 343.2 L123.5 344.2 L124.0 345.1 L124.5 346.1 L125.0 347.1 L125.5 348.0 L126.0 349.0 L126.5 350.0 L127.0 351.0 L127.5 352.0 L128.0 352.9 L128.5 353.9 L129.0 354.9 L129.5 355.9 L130.0 356.8 L130.5 357.9 L131.0 358.9 L131.5 360.0 L132.0 361.1 L132.5 362.3 L133.0 363.6 L133.5 364.8 L134.0 366.1 L134.5 367.3 L135.0 368.6 L135.5 369.8 L136.0 370.9 L136.5 372.1 L137.0 373.2 L137.5 374.3 L138.0 375.5 L138.5 376.6 L139.0 377.7 L139.5 378.8 L140.0 379.8 L140.5 380.9 L141.0 382.0 L141.5 383.0 L142.0 384.1 L142.5 385.1 L143.0 386.1 L143.5 387.2 L144.0 388.2 L144.5 389.2 L145.0 390.2 L145.5 391.2 L146.0 392.1 L146.5 393.1 L147.0 394.1 L147.5 395.0 L148.0 395.9 L148.5 396.8 L149.0 397.7 L149.5 398.6 L150.0 399.4 L150.5 400.3 L151.0 401.1 L151.5 402.0 L152.0 402.8 L152.5 403.7 L153.0 404.6 L153.5 405.5 L154.0 406.5 L154.5 407.5 L155.0 408.5 L155.5 409.6 L156.0 410.7 L156.5 411.8 L157.0 413.0 L157.5 414.0 L158.0 415.1 L158.5 416.1 L159.0 417.1 L159.5 418.0 L160.0 418.8 L160.5 419.5 L161.0 420.2 L161.5 420.8 L162.0 421.4 L162.5 422.0 L163.0 422.6 L163.5 423.2 L164.0 423.7 L164.5 424.3 L165.0 424.8 L165.5 425.3 L166.0 425.8 L166.5 426.4 L167.0 426.9 L167.5 427.5 L168.0 428.1 L168.5 428.7 L169.0 429.2 L169.5 429.8 L170.0 430.4 L170.5 431.0 L171.0 431.5 L171.5 432.1 L172.0 432.7 L172.5 433.3 L173.0 433.8 L173.5 434.4 L174.0 434.9 L174.5 435.5 L175.0 436.0 L175.5 436.5 L176.0 437.1 L176.5 437.6 L177.0 438.1 L177.5 438.7 L178.0 439.2 L178.5 439.7 L179.0 440.1 L179.5 440.6 L180.0 441.0 L180.5 441.4 L181.0 441.8 L181.5 442.2 L182.0 442.6 L182.5 443.0 L183.0 443.4 L183.5 443.8 L184.0 444.1 L184.5 444.5 L185.0 444.9 L185.5 445.2 L186.0 445.5 L186.5 445.8 L187.0 446.1 L187.5 446.4 L188.0 446.7 L188.5 446.9 L189.0 447.1 L189.5 447.3 L190.0 447.5 L190.5 447.7 L191.0 447.8 L191.5 448.0 L192.0 448.1 L192.5 448.3 L193.0 448.4 L193.5 448.5 L194.0 448.6 L194.5 448.7 L195.0 448.8 L195.5 448.9 L196.0 449.0 L196.5 449.0 L197.0 449.0 L197.5 449.0 L198.0 449.0 L198.5 448.9 L199.0 448.9 L199.5 448.8 L200.0 448.8 L200.5 448.7 L201.0 448.6 L201.5 448.5 L202.0 448.4 L202.5 448.3 L203.0 448.2 L203.5 448.1 L204.0 448.0 L204.5 447.9 L205.0 447.7 L205.5 447.5 L206.0 447.2 L206.5 447.0 L207.0 446.6 L207.5 446.3 L208.0 446.0 L208.5 445.6 L209.0 445.2 L209.5 444.8 L210.0 444.5 L210.5 444.1 L211.0 443.7 L211.5 443.3 L212.0 442.9 L212.5 442.5 L213.0 442.1 L213.5 441.7 L214.0 441.3 L214.5 440.9 L215.0 440.5 L215.5 440.1 L216.0 439.6 L216.5 439.2 L217.0 438.8 L217.5 438.3 L218.0 437.8 L218.5 437.4 L219.0 436.9 L219.5 436.5 L220.0 436.0 L220.5 435.5 L221.0 435.1 L221.5 434.6 L222.0 434.1 L222.5 433.6 L223.0 433.1 L223.5 432.6 L224.0 432.1 L224.5 431.6 L225.0 431.1 L225.5 430.5 L226.0 430.0 L226.5 429.5 L227.0 429.0 L227.5 428.5 L228.0 428.0 L228.5 427.5 L229.0 427.0 L229.5 426.6 L230.0 426.1 L230.5 425.7 L231.0 425.2 L231.5 424.8 L232.0 424.4 L232.5 424.0 L233.0 423.5 L233.5 423.1 L234.0 422.7 L234.5 422.2 L235.0 421.8 L235.5 421.3 L236.0 420.8 L236.5 420.3 L237.0 419.8 L237.5 419.3 L238.0 418.7 L238.5 418.1 L239.0 417.5 L239.5 416.8 L240.0 416.2 L240.5 415.4 L241.0 414.7 L241.5 413.8 L242.0 412.8 L242.5 411.6 L243.0 410.4 L243.5 409.0 L244.0 407.6 L244.5 406.1 L245.0 404.6 L245.5 403.0 L246.0 401.5 L246.5 399.9 L247.0 398.3 L247.5 396.8 L248.0 395.3 L248.5 393.8 L249.0 392.5 L249.5 391.2 L250.0 390.0 L250.5 388.9 L251.0 387.8 L251.5 386.7 L252.0 385.7 L252.5 384.6 L253.0 383.6 L253.5 382.6 L254.0 381.6 L254.5 380.7 L255.0 379.7 L255.5 378.8 L256.0 377.8 L256.5 376.9 L257.0 376.0 L257.5 375.1 L258.0 374.2 L258.5 373.3 L259.0 372.4 L259.5 371.5 L261.0 368.9 L263.0 365.4 L265.0 361.8 L267.0 358.1 L269.0 354.3 L271.0 350.4 L273.0 346.4 L275.0 342.3 L277.0 338.3 L279.0 334.2 L281.0 330.1 L283.0 326.0 L285.0 322.1 L287.0 318.1 L289.0 314.3 L291.0 310.6 L293.0 307.1 L295.0 303.7 L297.0 300.5 L299.0 297.6 L301.0 294.8 L303.0 292.3 L305.0 290.1 L307.0 288.0 L309.0 286.1 L311.0 284.2 L313.0 282.5 L315.0 280.9 L317.0 279.3 L319.0 277.8 L321.0 276.2 L323.0 274.7 L325.0 273.2 L327.0 271.7 L329.0 270.2 L331.0 268.8 L333.0 267.5 L335.0 266.3 L337.0 265.3 L339.0 264.4 L341.0 263.6 L343.0 263.0 L345.0 262.4 L347.0 261.8 L349.0 261.3 L351.0 260.8 L353.0 260.3 L355.0 259.9 L357.0 259.5 L359.0 259.2 L361.0 258.8 L363.0 258.5 L365.0 258.2 L367.0 258.0 L369.0 257.7 L371.0 257.5 L373.0 257.2 L375.0 257.0 L377.0 256.8 L379.0 256.5 L381.0 256.3 L383.0 256.1 L385.0 255.8 L387.0 255.5 L389.0 255.1 L391.0 254.7 L393.0 254.2 L395.0 253.9 L397.0 253.6 L399.0 253.4 L401.0 253.4 L403.0 253.5 L405.0 253.6 L407.0 253.7 L409.0 253.9 L411.0 254.1 L413.0 254.4 L415.0 254.6 L417.0 254.8 L419.0 255.1 L421.0 255.3 L423.0 255.5 L425.0 255.6 L427.0 255.7 L429.0 255.8 L431.0 255.8 L433.0 255.8 L435.0 255.7 L437.0 255.7 L439.0 255.6 L441.0 255.6 L443.0 255.5 L445.0 255.4 L447.0 255.3 L449.0 255.2 L451.0 255.2 L453.0 255.1 L455.0 255.1 L457.0 255.0 L459.0 255.0 L461.0 255.0 L463.0 255.0 L465.0 255.1 L467.0 255.2 L469.0 255.3 L471.0 255.3 L473.0 255.4 L475.0 255.5 L477.0 255.6 L479.0 255.6 L481.0 255.7 L483.0 255.8 L485.0 255.8 L487.0 255.9 L489.0 256.0 L491.0 256.0 L493.0 256.1 L495.0 256.2 L497.0 256.3 L499.0 256.4 L501.0 256.5 L503.0 256.6 L505.0 256.7 L507.0 256.8 L509.0 256.9 L511.0 257.0 L513.0 257.0 L515.0 257.0 L517.0 257.0 L519.0 257.0 L521.0 257.0 L523.0 257.0 L525.0 256.9 L527.0 256.9 L529.0 256.9 L531.0 256.9 L533.0 256.9 L535.0 256.9 L537.0 256.9 L539.0 257.0 L541.0 257.1 L543.0 257.3 L545.0 257.4 L547.0 257.5 L549.0 257.6 L551.0 257.7 L553.0 257.8 L555.0 257.9 L557.0 258.0 L559.0 258.0 L561.0 258.0 L563.0 258.0 L565.0 258.0 L567.0 257.9 L569.0 257.9 L571.0 257.8 L573.0 257.7 L575.0 257.7 L577.0 257.6 L579.0 257.5 L581.0 257.5 L583.0 257.4 L585.0 257.2 L587.0 257.1 L589.0 256.9 L591.0 256.8 L593.0 256.6 L595.0 256.5 L597.0 256.4 L599.0 256.3 L601.0 256.2 L603.0 256.2 L605.0 256.1 L607.0 256.0 L609.0 256.0 L611.0 255.9 L613.0 255.9 L615.0 255.9 L617.0 255.8 L619.0 255.8 L621.0 255.8 L623.0 255.8 L625.0 255.8 L627.0 255.8 L629.0 255.8 L631.0 255.8 L633.0 255.8 L635.0 255.8 L637.0 255.8 L639.0 255.8 L641.0 255.8 L643.0 255.8 L645.0 255.8 L647.0 255.8 L649.0 255.8 L651.0 255.8 L653.0 255.8 L655.0 255.8 L657.0 255.8 L659.0 255.8 L661.0 255.8 L663.0 255.8 L665.0 255.8 L667.0 255.8 L669.0 255.8 L671.0 255.8 L673.0 255.8 L675.0 255.8 L677.0 255.8 L679.0 255.8 L681.0 255.8 L683.0 255.7 L685.0 255.7 L687.0 255.7 L689.0 255.7 L691.0 255.7 L693.0 255.6 L695.0 255.6 L697.0 255.6 L699.0 255.5 L701.0 255.5 L703.0 255.5 L705.0 255.4 L707.0 255.4"/>
<path d="M87.0 276.7 L87.5 277.2 L88.0 277.7 L88.5 278.1 L89.0 278.6 L89.5 279.1 L90.0 279.5 L90.5 280.0 L91.0 280.4 L91.5 280.9 L92.0 281.3 L92.5 281.7 L93.0 282.2 L93.5 282.6 L94.0 283.0 L94.5 283.4 L95.0 283.8 L95.5 284.2 L96.0 284.6 L96.5 285.0 L97.0 285.5 L97.5 285.9 L98.0 286.4 L98.5 286.8 L99.0 287.3 L99.5 287.8 L100.0 288.3 L100.5 288.8 L101.0 289.4 L101.5 289.9 L102.0 290.4 L102.5 291.0 L103.0 291.6 L103.5 292.2 L104.0 292.8 L104.5 293.4 L105.0 294.1 L105.5 294.7 L106.0 295.4 L106.5 296.2 L107.0 297.0 L107.5 297.9 L108.0 298.8 L108.5 299.7 L109.0 300.7 L109.5 301.7 L110.0 302.6 L110.5 303.6 L111.0 304.5 L111.5 305.4 L112.0 306.2 L112.5 307.0 L113.0 307.7 L113.5 308.4 L114.0 309.1 L114.5 309.8 L115.0 310.4 L115.5 311.0 L116.0 311.7 L116.5 312.3 L117.0 313.0 L117.5 313.7 L118.0 314.4 L118.5 315.2 L119.0 316.0 L119.5 316.8 L120.0 317.6 L120.5 318.5 L121.0 319.4 L121.5 320.3 L122.0 321.3 L122.5 322.2 L123.0 323.2 L123.5 324.1 L124.0 325.1 L124.5 326.1 L125.0 327.0 L125.5 328.0 L126.0 328.9 L126.5 329.9 L127.0 330.8 L127.5 331.8 L128.0 332.8 L128.5 333.7 L129.0 334.7 L129.5 335.7 L130.0 336.8 L130.5 337.8 L131.0 338.9 L131.5 340.0 L132.0 341.1 L132.5 342.3 L133.0 343.6 L133.5 344.8 L134.0 346.1 L134.5 347.4 L135.0 348.7 L135.5 350.0 L136.0 351.2 L136.5 352.5 L137.0 353.8 L137.5 355.0 L138.0 356.3 L138.5 357.6 L139.0 358.9 L139.5 360.1 L140.0 361.4 L140.5 362.6 L141.0 363.8 L141.5 365.0 L142.0 366.2 L142.5 367.3 L143.0 368.4 L143.5 369.5 L144.0 370.5 L144.5 371.6 L145.0 372.5 L145.5 373.5 L146.0 374.5 L146.5 375.4 L147.0 376.4 L147.5 377.3 L148.0 378.3 L148.5 379.3 L149.0 380.3 L149.5 381.4 L150.0 382.5 L150.5 383.7 L151.0 384.9 L151.5 386.2 L152.0 387.5 L152.5 388.8 L153.0 390.2 L153.5 391.6 L154.0 392.9 L154.5 394.3 L155.0 395.6 L155.5 396.9 L156.0 398.1 L156.5 399.3 L157.0 400.5 L157.5 401.7 L158.0 402.9 L158.5 404.0 L159.0 405.2 L159.5 406.3 L160.0 407.4 L160.5 408.5 L161.0 409.6 L161.5 410.6 L162.0 411.6 L162.5 412.5 L163.0 413.4 L163.5 414.3 L164.0 415.1 L164.5 415.9 L165.0 416.7 L165.5 417.5 L166.0 418.3 L166.5 419.0 L167.0 419.8 L167.5 420.6 L168.0 421.3 L168.5 422.1 L169.0 422.9 L169.5 423.7 L170.0 424.5 L170.5 425.4 L171.0 426.2 L171.5 427.0 L172.0 427.8 L172.5 428.7 L173.0 429.5 L173.5 430.2 L174.0 431.0 L174.5 431.8 L175.0 432.5 L175.5 433.2 L176.0 433.9 L176.5 434.7 L177.0 435.4 L177.5 436.1 L178.0 436.7 L178.5 437.4 L179.0 438.0 L179.5 438.5 L180.0 439.0 L180.5 439.4 L181.0 439.9 L181.5 440.3 L182.0 440.7 L182.5 441.1 L183.0 441.5 L183.5 441.9 L184.0 442.3 L184.5 442.6 L185.0 443.0 L185.5 443.3 L186.0 443.6 L186.5 443.9 L187.0 444.2 L187.5 444.5 L188.0 444.7 L188.5 444.9 L189.0 445.1 L189.5 445.3 L190.0 445.5 L190.5 445.7 L191.0 445.8 L191.5 446.0 L192.0 446.1 L192.5 446.3 L193.0 446.4 L193.5 446.5 L194.0 446.6 L194.5 446.7 L195.0 446.8 L195.5 446.9 L196.0 447.0 L196.5 447.0 L197.0 447.0 L197.5 447.0 L198.0 447.0 L198.5 446.9 L199.0 446.9 L199.5 446.8 L200.0 446.8 L200.5 446.7 L201.0 446.6 L201.5 446.5 L202.0 446.4 L202.5 446.3 L203.0 446.2 L203.5 446.1 L204.0 446.0 L204.5 445.9 L205.0 445.7 L205.5 445.5 L206.0 445.3 L206.5 445.0 L207.0 444.8 L207.5 444.5 L208.0 444.1 L208.5 443.8 L209.0 443.5 L209.5 443.1 L210.0 442.8 L210.5 442.4 L211.0 442.1 L211.5 441.7 L212.0 441.3 L212.5 441.0 L213.0 440.7 L213.5 440.3 L214.0 439.9 L214.5 439.5 L215.0 439.2 L215.5 438.8 L216.0 438.4 L216.5 437.9 L217.0 437.5 L217.5 437.1 L218.0 436.7 L218.5 436.3 L219.0 435.8 L219.5 435.4 L220.0 435.0 L220.5 434.6 L221.0 434.1 L221.5 433.7 L222.0 433.3 L222.5 432.8 L223.0 432.4 L223.5 431.9 L224.0 431.4 L224.5 431.0 L225.0 430.5 L225.5 430.1 L226.0 429.6 L226.5 429.2 L227.0 428.7 L227.5 428.3 L228.0 427.8 L228.5 427.4 L229.0 427.0 L229.5 426.6 L230.0 426.2 L230.5 425.8 L231.0 425.5 L231.5 425.1 L232.0 424.8 L232.5 424.5 L233.0 424.1 L233.5 423.8 L234.0 423.5 L234.5 423.2 L235.0 422.9 L235.5 422.6 L236.0 422.2 L236.5 421.9 L237.0 421.6 L237.5 421.3 L238.0 421.0 L238.5 420.6 L239.0 420.3 L239.5 419.9 L240.0 419.6 L240.5 419.2 L241.0 418.8 L241.5 418.4 L242.0 418.0 L242.5 417.5 L243.0 417.1 L243.5 416.6 L244.0 416.1 L244.5 415.6 L245.0 415.0 L245.5 414.4 L246.0 413.7 L246.5 412.9 L247.0 412.1 L247.5 411.2 L248.0 410.2 L248.5 409.2 L249.0 408.2 L249.5 407.1 L250.0 405.9 L250.5 404.8 L251.0 403.6 L251.5 402.4 L252.0 401.2 L252.5 400.0 L253.0 398.8 L253.5 397.6 L254.0 396.4 L254.5 395.3 L255.0 394.1 L255.5 393.0 L256.0 392.0 L256.5 391.0 L257.0 390.0 L257.5 389.1 L258.0 388.2 L258.5 387.3 L259.0 386.4 L259.5 385.5 L261.0 382.9 L263.0 379.6 L265.0 376.4 L267.0 373.2 L269.0 370.0 L271.0 366.8 L273.0 363.4 L275.0 360.0 L277.0 356.4 L279.0 352.5 L281.0 348.6 L283.0 344.5 L285.0 340.3 L287.0 336.1 L289.0 332.0 L291.0 327.9 L293.0 323.9 L295.0 320.0 L297.0 316.4 L299.0 312.9 L301.0 309.8 L303.0 306.9 L305.0 304.3 L307.0 301.9 L309.0 299.5 L311.0 297.3 L313.0 295.3 L315.0 293.3 L317.0 291.5 L319.0 289.8 L321.0 288.2 L323.0 286.7 L325.0 285.2 L327.0 283.8 L329.0 282.4 L331.0 281.1 L333.0 280.0 L335.0 278.8 L337.0 277.8 L339.0 276.9 L341.0 276.1 L343.0 275.3 L345.0 274.6 L347.0 274.0 L349.0 273.3 L351.0 272.8 L353.0 272.2 L355.0 271.7 L357.0 271.2 L359.0 270.8 L361.0 270.4 L363.0 270.1 L365.0 269.8 L367.0 269.5 L369.0 269.2 L371.0 268.8 L373.0 268.4 L375.0 268.1 L377.0 267.7 L379.0 267.3 L381.0 266.8 L383.0 266.4 L385.0 266.0 L387.0 265.6 L389.0 265.1 L391.0 264.6 L393.0 264.1 L395.0 263.6 L397.0 263.2 L399.0 262.9 L401.0 262.6 L403.0 262.3 L405.0 262.0 L407.0 261.8 L409.0 261.5 L411.0 261.3 L413.0 261.1 L415.0 260.9 L417.0 260.7 L419.0 260.5 L421.0 260.3 L423.0 260.2 L425.0 260.1 L427.0 259.9 L429.0 259.8 L431.0 259.8 L433.0 259.7 L435.0 259.6 L437.0 259.6 L439.0 259.5 L441.0 259.4 L443.0 259.4 L445.0 259.4 L447.0 259.3 L449.0 259.3 L451.0 259.2 L453.0 259.2 L455.0 259.1 L457.0 259.1 L459.0 259.0 L461.0 259.0 L463.0 258.9 L465.0 258.8 L467.0 258.8 L469.0 258.7 L471.0 258.6 L473.0 258.6 L475.0 258.5 L477.0 258.4 L479.0 258.4 L481.0 258.3 L483.0 258.2 L485.0 258.1 L487.0 258.1 L489.0 258.0 L491.0 258.0 L493.0 257.9 L495.0 257.9 L497.0 257.8 L499.0 257.8 L501.0 257.8 L503.0 257.7 L505.0 257.7 L507.0 257.6 L509.0 257.6 L511.0 257.6 L513.0 257.5 L515.0 257.5 L517.0 257.5 L519.0 257.4 L521.0 257.4 L523.0 257.3 L525.0 257.3 L527.0 257.2 L529.0 257.2 L531.0 257.2 L533.0 257.1 L535.0 257.1 L537.0 257.2 L539.0 257.3 L541.0 257.5 L543.0 257.7 L545.0 258.0 L547.0 258.2 L549.0 258.4 L551.0 258.6 L553.0 258.7 L555.0 258.9 L557.0 259.1 L559.0 259.3 L561.0 259.4 L563.0 259.6 L565.0 259.8 L567.0 259.9 L569.0 260.1 L571.0 260.3 L573.0 260.4 L575.0 260.5 L577.0 260.6 L579.0 260.7 L581.0 260.7 L583.0 260.7 L585.0 260.8 L587.0 260.8 L589.0 260.8 L591.0 260.8 L593.0 260.8 L595.0 260.8 L597.0 260.8 L599.0 260.8 L601.0 260.9 L603.0 260.9 L605.0 260.9 L607.0 260.9 L609.0 260.9 L611.0 261.0 L613.0 261.0 L615.0 261.0 L617.0 261.0 L619.0 261.1 L621.0 261.1 L623.0 261.1 L625.0 261.1 L627.0 261.2 L629.0 261.2 L631.0 261.2 L633.0 261.3 L635.0 261.3 L637.0 261.3 L639.0 261.3 L641.0 261.4 L643.0 261.4 L645.0 261.4 L647.0 261.5 L649.0 261.5 L651.0 261.6 L653.0 261.7 L655.0 261.8 L657.0 261.9 L659.0 262.0 L661.0 262.2 L663.0 262.3 L665.0 262.5 L667.0 262.7 L669.0 262.9 L671.0 263.1 L673.0 263.3 L675.0 263.5 L677.0 263.7 L679.0 263.9 L681.0 264.0 L683.0 264.2 L685.0 264.4 L687.0 264.7 L689.0 264.9 L691.0 265.1 L693.0 265.3 L695.0 265.6 L697.0 265.8 L699.0 266.0 L701.0 266.3 L703.0 266.6 L705.0 266.8 L707.0 267.1"/>
<path d="M87.0 262.0 L87.5 262.0 L88.0 262.0 L88.5 262.0 L89.0 262.0 L89.5 262.0 L90.0 262.1 L90.5 262.1 L91.0 262.1 L91.5 262.1 L92.0 262.2 L92.5 262.2 L93.0 262.2 L93.5 262.3 L94.0 262.3 L94.5 262.3 L95.0 262.4 L95.5 262.4 L96.0 262.5 L96.5 262.5 L97.0 262.6 L97.5 262.6 L98.0 262.7 L98.5 262.8 L99.0 262.8 L99.5 262.9 L100.0 263.0 L100.5 263.0 L101.0 263.2 L101.5 263.3 L102.0 263.5 L102.5 263.7 L103.0 263.9 L103.5 264.2 L104.0 264.5 L104.5 264.8 L105.0 265.1 L105.5 265.4 L106.0 265.7 L106.5 266.0 L107.0 266.3 L107.5 266.6 L108.0 267.0 L108.5 267.4 L109.0 267.7 L109.5 268.1 L110.0 268.6 L110.5 269.0 L111.0 269.4 L111.5 269.9 L112.0 270.4 L112.5 270.9 L113.0 271.4 L113.5 271.9 L114.0 272.5 L114.5 273.1 L115.0 273.7 L115.5 274.4 L116.0 275.2 L116.5 275.9 L117.0 276.7 L117.5 277.5 L118.0 278.4 L118.5 279.2 L119.0 280.0 L119.5 280.8 L120.0 281.7 L120.5 282.5 L121.0 283.4 L121.5 284.2 L122.0 285.1 L122.5 286.0 L123.0 286.9 L123.5 287.8 L124.0 288.7 L124.5 289.6 L125.0 290.5 L125.5 291.4 L126.0 292.3 L126.5 293.2 L127.0 294.0 L127.5 294.9 L128.0 295.7 L128.5 296.6 L129.0 297.5 L129.5 298.4 L130.0 299.4 L130.5 300.4 L131.0 301.4 L131.5 302.5 L132.0 303.7 L132.5 305.0 L133.0 306.5 L133.5 308.0 L134.0 309.5 L134.5 311.0 L135.0 312.5 L135.5 313.9 L136.0 315.3 L136.5 316.5 L137.0 317.6 L137.5 318.7 L138.0 319.7 L138.5 320.8 L139.0 321.9 L139.5 323.1 L140.0 324.3 L140.5 325.7 L141.0 327.3 L141.5 329.0 L142.0 330.8 L142.5 332.6 L143.0 334.4 L143.5 336.0 L144.0 337.5 L144.5 338.8 L145.0 340.0 L145.5 341.2 L146.0 342.3 L146.5 343.4 L147.0 344.5 L147.5 345.5 L148.0 346.6 L148.5 347.6 L149.0 348.8 L149.5 349.9 L150.0 351.0 L150.5 352.1 L151.0 353.2 L151.5 354.3 L152.0 355.4 L152.5 356.5 L153.0 357.7 L153.5 358.8 L154.0 360.0 L154.5 361.2 L155.0 362.5 L155.5 363.8 L156.0 365.1 L156.5 366.4 L157.0 367.7 L157.5 368.9 L158.0 370.0 L158.5 371.0 L159.0 372.0 L159.5 372.9 L160.0 373.8 L160.5 374.7 L161.0 375.5 L161.5 376.3 L162.0 377.1 L162.5 377.9 L163.0 378.8 L163.5 379.7 L164.0 380.6 L164.5 381.5 L165.0 382.5 L165.5 383.6 L166.0 384.7 L166.5 385.9 L167.0 387.1 L167.5 388.4 L168.0 389.7 L168.5 391.0 L169.0 392.3 L169.5 393.5 L170.0 394.7 L170.5 395.9 L171.0 397.0 L171.5 398.0 L172.0 399.0 L172.5 399.9 L173.0 400.9 L173.5 401.8 L174.0 402.6 L174.5 403.5 L175.0 404.3 L175.5 405.2 L176.0 406.0 L176.5 406.8 L177.0 407.6 L177.5 408.4 L178.0 409.2 L178.5 410.0 L179.0 410.9 L179.5 411.7 L180.0 412.5 L180.5 413.3 L181.0 414.2 L181.5 415.1 L182.0 415.9 L182.5 416.8 L183.0 417.7 L183.5 418.6 L184.0 419.5 L184.5 420.3 L185.0 421.2 L185.5 422.1 L186.0 422.9 L186.5 423.7 L187.0 424.5 L187.5 425.3 L188.0 426.1 L188.5 426.8 L189.0 427.5 L189.5 428.1 L190.0 428.8 L190.5 429.3 L191.0 429.9 L191.5 430.5 L192.0 431.1 L192.5 431.6 L193.0 432.1 L193.5 432.7 L194.0 433.1 L194.5 433.6 L195.0 434.1 L195.5 434.5 L196.0 434.9 L196.5 435.3 L197.0 435.7 L197.5 436.0 L198.0 436.3 L198.5 436.6 L199.0 437.0 L199.5 437.3 L200.0 437.6 L200.5 437.9 L201.0 438.2 L201.5 438.5 L202.0 438.8 L202.5 439.1 L203.0 439.4 L203.5 439.6 L204.0 439.8 L204.5 440.0 L205.0 440.2 L205.5 440.3 L206.0 440.4 L206.5 440.5 L207.0 440.6 L207.5 440.6 L208.0 440.6 L208.5 440.6 L209.0 440.6 L209.5 440.6 L210.0 440.6 L210.5 440.5 L211.0 440.5 L211.5 440.5 L212.0 440.5 L212.5 440.4 L213.0 440.4 L213.5 440.4 L214.0 440.3 L214.5 440.3 L215.0 440.3 L215.5 440.2 L216.0 440.2 L216.5 440.1 L217.0 440.1 L217.5 440.0 L218.0 439.9 L218.5 439.8 L219.0 439.7 L219.5 439.5 L220.0 439.2 L220.5 439.0 L221.0 438.7 L221.5 438.4 L222.0 438.1 L222.5 437.8 L223.0 437.4 L223.5 437.1 L224.0 436.7 L224.5 436.4 L225.0 436.0 L225.5 435.6 L226.0 435.1 L226.5 434.6 L227.0 434.1 L227.5 433.5 L228.0 432.9 L228.5 432.2 L229.0 431.6 L229.5 430.9 L230.0 430.3 L230.5 429.7 L231.0 429.1 L231.5 428.5 L232.0 428.0 L232.5 427.5 L233.0 427.0 L233.5 426.6 L234.0 426.1 L234.5 425.7 L235.0 425.3 L235.5 424.9 L236.0 424.5 L236.5 424.1 L237.0 423.8 L237.5 423.4 L238.0 423.0 L238.5 422.7 L239.0 422.3 L239.5 421.9 L240.0 421.5 L240.5 421.2 L241.0 420.8 L241.5 420.4 L242.0 420.0 L242.5 419.6 L243.0 419.1 L243.5 418.7 L244.0 418.2 L244.5 417.7 L245.0 417.2 L245.5 416.7 L246.0 416.2 L246.5 415.6 L247.0 415.0 L247.5 414.4 L248.0 413.7 L248.5 412.9 L249.0 412.1 L249.5 411.2 L250.0 410.3 L250.5 409.3 L251.0 408.4 L251.5 407.3 L252.0 406.3 L252.5 405.2 L253.0 404.1 L253.5 403.0 L254.0 401.9 L254.5 400.8 L255.0 399.6 L255.5 398.5 L256.0 397.4 L256.5 396.3 L257.0 395.2 L257.5 394.1 L258.0 393.0 L258.5 392.0 L259.0 391.0 L259.5 390.0 L261.0 387.2 L263.0 383.5 L265.0 379.8 L267.0 376.2 L269.0 372.7 L271.0 369.1 L273.0 365.5 L275.0 361.8 L277.0 358.1 L279.0 354.2 L281.0 350.2 L283.0 346.1 L285.0 341.9 L287.0 337.7 L289.0 333.5 L291.0 329.4 L293.0 325.4 L295.0 321.5 L297.0 317.9 L299.0 314.4 L301.0 311.3 L303.0 308.4 L305.0 305.8 L307.0 303.3 L309.0 301.0 L311.0 298.8 L313.0 296.8 L315.0 294.8 L317.0 293.0 L319.0 291.3 L321.0 289.7 L323.0 288.2 L325.0 286.7 L327.0 285.3 L329.0 283.9 L331.0 282.7 L333.0 281.5 L335.0 280.4 L337.0 279.3 L339.0 278.4 L341.0 277.6 L343.0 276.8 L345.0 276.1 L347.0 275.5 L349.0 274.9 L351.0 274.3 L353.0 273.7 L355.0 273.2 L357.0 272.7 L359.0 272.2 L361.0 271.8 L363.0 271.3 L365.0 270.9 L367.0 270.5 L369.0 270.2 L371.0 269.8 L373.0 269.5 L375.0 269.3 L377.0 269.0 L379.0 268.8 L381.0 268.5 L383.0 268.3 L385.0 268.0 L387.0 267.7 L389.0 267.4 L391.0 267.1 L393.0 266.8 L395.0 266.5 L397.0 266.2 L399.0 266.0 L401.0 265.8 L403.0 265.6 L405.0 265.4 L407.0 265.3 L409.0 265.1 L411.0 264.9 L413.0 264.8 L415.0 264.6 L417.0 264.5 L419.0 264.4 L421.0 264.2 L423.0 264.1 L425.0 264.0 L427.0 263.9 L429.0 263.8 L431.0 263.8 L433.0 263.7 L435.0 263.6 L437.0 263.6 L439.0 263.5 L441.0 263.5 L443.0 263.5 L445.0 263.4 L447.0 263.4 L449.0 263.3 L451.0 263.3 L453.0 263.2 L455.0 263.2 L457.0 263.1 L459.0 263.0 L461.0 262.9 L463.0 262.8 L465.0 262.6 L467.0 262.4 L469.0 262.2 L471.0 261.9 L473.0 261.7 L475.0 261.5 L477.0 261.3 L479.0 261.1 L481.0 260.9 L483.0 260.7 L485.0 260.4 L487.0 260.3 L489.0 260.1 L491.0 259.9 L493.0 259.8 L495.0 259.6 L497.0 259.5 L499.0 259.4 L501.0 259.3 L503.0 259.1 L505.0 259.0 L507.0 258.9 L509.0 258.8 L511.0 258.7 L513.0 258.6 L515.0 258.5 L517.0 258.4 L519.0 258.3 L521.0 258.2 L523.0 258.1 L525.0 258.0 L527.0 257.9 L529.0 257.8 L531.0 257.7 L533.0 257.7 L535.0 257.7 L537.0 257.7 L539.0 257.8 L541.0 257.8 L543.0 257.9 L545.0 258.0 L547.0 258.1 L549.0 258.2 L551.0 258.3 L553.0 258.4 L555.0 258.5 L557.0 258.6 L559.0 258.6 L561.0 258.7 L563.0 258.7 L565.0 258.7 L567.0 258.7 L569.0 258.7 L571.0 258.7 L573.0 258.7 L575.0 258.7 L577.0 258.7 L579.0 258.7 L581.0 258.7 L583.0 258.7 L585.0 258.6 L587.0 258.5 L589.0 258.4 L591.0 258.3 L593.0 258.2 L595.0 258.1 L597.0 258.0 L599.0 258.0 L601.0 258.0 L603.0 257.9 L605.0 257.9 L607.0 257.9 L609.0 257.9 L611.0 257.8 L613.0 257.8 L615.0 257.8 L617.0 257.8 L619.0 257.8 L621.0 257.8 L623.0 257.8 L625.0 257.8 L627.0 257.8 L629.0 257.8 L631.0 257.8 L633.0 257.8 L635.0 257.8 L637.0 257.8 L639.0 257.8 L641.0 257.8 L643.0 257.8 L645.0 257.8 L647.0 257.8 L649.0 257.8 L651.0 257.8 L653.0 257.8 L655.0 257.8 L657.0 257.8 L659.0 257.9 L661.0 257.9 L663.0 257.9 L665.0 257.9 L667.0 258.0 L669.0 258.0 L671.0 258.0 L673.0 258.1 L675.0 258.1 L677.0 258.1 L679.0 258.1 L681.0 258.1 L683.0 258.1 L685.0 258.2 L687.0 258.2 L689.0 258.2 L691.0 258.2 L693.0 258.2 L695.0 258.2 L697.0 258.2 L699.0 258.3 L701.0 258.3 L703.0 258.3 L705.0 258.3 L707.0 258.3"/>
<path d="M87.0 218.6 L87.5 218.6 L88.0 218.6 L88.5 218.6 L89.0 218.7 L89.5 218.7 L90.0 218.8 L90.5 218.8 L91.0 218.9 L91.5 218.9 L92.0 219.0 L92.5 219.1 L93.0 219.2 L93.5 219.2 L94.0 219.3 L94.5 219.4 L95.0 219.5 L95.5 219.6 L96.0 219.7 L96.5 219.8 L97.0 219.9 L97.5 220.1 L98.0 220.3 L98.5 220.4 L99.0 220.6 L99.5 220.9 L100.0 221.1 L100.5 221.4 L101.0 221.6 L101.5 221.9 L102.0 222.2 L102.5 222.5 L103.0 222.8 L103.5 223.1 L104.0 223.4 L104.5 223.7 L105.0 224.0 L105.5 224.3 L106.0 224.6 L106.5 224.9 L107.0 225.2 L107.5 225.6 L108.0 225.9 L108.5 226.3 L109.0 226.7 L109.5 227.0 L110.0 227.4 L110.5 227.8 L111.0 228.3 L111.5 228.7 L112.0 229.2 L112.5 229.7 L113.0 230.2 L113.5 230.8 L114.0 231.4 L114.5 232.1 L115.0 232.8 L115.5 233.6 L116.0 234.3 L116.5 235.1 L117.0 236.0 L117.5 236.8 L118.0 237.6 L118.5 238.5 L119.0 239.3 L119.5 240.2 L120.0 241.0 L120.5 241.8 L121.0 242.7 L121.5 243.5 L122.0 244.4 L122.5 245.2 L123.0 246.1 L123.5 247.0 L124.0 247.9 L124.5 248.8 L125.0 249.8 L125.5 250.7 L126.0 251.6 L126.5 252.6 L127.0 253.5 L127.5 254.5 L128.0 255.5 L128.5 256.5 L129.0 257.5 L129.5 258.5 L130.0 259.5 L130.5 260.5 L131.0 261.6 L131.5 262.6 L132.0 263.7 L132.5 264.8 L133.0 265.8 L133.5 266.9 L134.0 268.0 L134.5 269.1 L135.0 270.3 L135.5 271.4 L136.0 272.6 L136.5 273.8 L137.0 275.0 L137.5 276.3 L138.0 277.5 L138.5 278.8 L139.0 280.2 L139.5 281.5 L140.0 282.9 L140.5 284.3 L141.0 285.7 L141.5 287.1 L142.0 288.6 L142.5 290.0 L143.0 291.5 L143.5 293.0 L144.0 294.5 L144.5 296.0 L145.0 297.4 L145.5 299.0 L146.0 300.5 L146.5 302.0 L147.0 303.5 L147.5 305.0 L148.0 306.5 L148.5 308.0 L149.0 309.4 L149.5 310.9 L150.0 312.4 L150.5 313.8 L151.0 315.3 L151.5 316.7 L152.0 318.1 L152.5 319.5 L153.0 320.9 L153.5 322.3 L154.0 323.8 L154.5 325.2 L155.0 326.7 L155.5 328.3 L156.0 330.0 L156.5 331.8 L157.0 333.6 L157.5 335.3 L158.0 337.1 L158.5 338.6 L159.0 340.0 L159.5 341.2 L160.0 342.2 L160.5 343.2 L161.0 344.1 L161.5 345.0 L162.0 345.8 L162.5 346.7 L163.0 347.7 L163.5 348.8 L164.0 350.0 L164.5 351.4 L165.0 353.1 L165.5 354.9 L166.0 356.8 L166.5 358.8 L167.0 360.7 L167.5 362.4 L168.0 364.0 L168.5 365.4 L169.0 366.7 L169.5 367.9 L170.0 369.1 L170.5 370.3 L171.0 371.5 L171.5 372.7 L172.0 374.0 L172.5 375.4 L173.0 376.9 L173.5 378.3 L174.0 379.8 L174.5 381.2 L175.0 382.5 L175.5 383.7 L176.0 384.8 L176.5 385.9 L177.0 387.0 L177.5 388.0 L178.0 389.0 L178.5 389.9 L179.0 390.9 L179.5 391.8 L180.0 392.8 L180.5 393.7 L181.0 394.6 L181.5 395.6 L182.0 396.5 L182.5 397.5 L183.0 398.5 L183.5 399.5 L184.0 400.5 L184.5 401.6 L185.0 402.6 L185.5 403.6 L186.0 404.7 L186.5 405.7 L187.0 406.7 L187.5 407.7 L188.0 408.7 L188.5 409.6 L189.0 410.5 L189.5 411.4 L190.0 412.2 L190.5 413.0 L191.0 413.8 L191.5 414.4 L192.0 415.1 L192.5 415.8 L193.0 416.4 L193.5 417.1 L194.0 417.7 L194.5 418.3 L195.0 418.9 L195.5 419.4 L196.0 420.0 L196.5 420.5 L197.0 421.0 L197.5 421.5 L198.0 422.0 L198.5 422.5 L199.0 422.9 L199.5 423.3 L200.0 423.8 L200.5 424.1 L201.0 424.5 L201.5 424.9 L202.0 425.3 L202.5 425.6 L203.0 426.0 L203.5 426.3 L204.0 426.7 L204.5 427.0 L205.0 427.3 L205.5 427.6 L206.0 427.9 L206.5 428.2 L207.0 428.5 L207.5 428.8 L208.0 429.0 L208.5 429.3 L209.0 429.5 L209.5 429.8 L210.0 430.0 L210.5 430.2 L211.0 430.5 L211.5 430.7 L212.0 430.9 L212.5 431.2 L213.0 431.4 L213.5 431.6 L214.0 431.9 L214.5 432.1 L215.0 432.3 L215.5 432.5 L216.0 432.7 L216.5 432.9 L217.0 433.0 L217.5 433.2 L218.0 433.3 L218.5 433.4 L219.0 433.4 L219.5 433.5 L220.0 433.5 L220.5 433.5 L221.0 433.5 L221.5 433.4 L222.0 433.4 L222.5 433.3 L223.0 433.2 L223.5 433.2 L224.0 433.1 L224.5 433.0 L225.0 432.8 L225.5 432.7 L226.0 432.6 L226.5 432.4 L227.0 432.3 L227.5 432.2 L228.0 432.0 L228.5 431.8 L229.0 431.5 L229.5 431.2 L230.0 430.8 L230.5 430.4 L231.0 429.9 L231.5 429.4 L232.0 428.9 L232.5 428.4 L233.0 427.9 L233.5 427.4 L234.0 426.9 L234.5 426.4 L235.0 426.0 L235.5 425.6 L236.0 425.2 L236.5 424.9 L237.0 424.5 L237.5 424.2 L238.0 423.8 L238.5 423.5 L239.0 423.2 L239.5 422.9 L240.0 422.6 L240.5 422.2 L241.0 421.9 L241.5 421.6 L242.0 421.3 L242.5 421.0 L243.0 420.7 L243.5 420.3 L244.0 420.0 L244.5 419.7 L245.0 419.3 L245.5 419.0 L246.0 418.6 L246.5 418.2 L247.0 417.8 L247.5 417.4 L248.0 416.9 L248.5 416.5 L249.0 416.0 L249.5 415.5 L250.0 415.0 L250.5 414.4 L251.0 413.8 L251.5 413.1 L252.0 412.4 L252.5 411.6 L253.0 410.7 L253.5 409.9 L254.0 408.9 L254.5 408.0 L255.0 407.0 L255.5 406.0 L256.0 404.9 L256.5 403.9 L257.0 402.8 L257.5 401.8 L258.0 400.7 L258.5 399.6 L259.0 398.6 L259.5 397.5 L261.0 394.5 L263.0 390.8 L265.0 387.7 L267.0 384.8 L269.0 382.0 L271.0 379.4 L273.0 376.8 L275.0 374.3 L277.0 371.8 L279.0 369.3 L281.0 366.8 L283.0 364.2 L285.0 361.4 L287.0 358.5 L289.0 355.5 L291.0 352.4 L293.0 349.1 L295.0 345.9 L297.0 342.7 L299.0 339.5 L301.0 336.4 L303.0 333.4 L305.0 330.6 L307.0 327.7 L309.0 324.8 L311.0 322.0 L313.0 319.2 L315.0 316.7 L317.0 314.2 L319.0 312.0 L321.0 310.0 L323.0 308.2 L325.0 306.4 L327.0 304.7 L329.0 303.1 L331.0 301.6 L333.0 300.2 L335.0 298.8 L337.0 297.4 L339.0 296.1 L341.0 294.9 L343.0 293.7 L345.0 292.5 L347.0 291.3 L349.0 290.2 L351.0 289.2 L353.0 288.2 L355.0 287.2 L357.0 286.3 L359.0 285.4 L361.0 284.6 L363.0 283.9 L365.0 283.2 L367.0 282.5 L369.0 281.8 L371.0 281.2 L373.0 280.4 L375.0 279.7 L377.0 279.0 L379.0 278.3 L381.0 277.6 L383.0 277.0 L385.0 276.4 L387.0 275.9 L389.0 275.5 L391.0 275.0 L393.0 274.6 L395.0 274.3 L397.0 273.9 L399.0 273.5 L401.0 273.1 L403.0 272.7 L405.0 272.2 L407.0 271.8 L409.0 271.3 L411.0 270.9 L413.0 270.4 L415.0 270.0 L417.0 269.5 L419.0 269.2 L421.0 268.8 L423.0 268.5 L425.0 268.2 L427.0 267.9 L429.0 267.8 L431.0 267.6 L433.0 267.6 L435.0 267.5 L437.0 267.4 L439.0 267.3 L441.0 267.3 L443.0 267.2 L445.0 267.2 L447.0 267.2 L449.0 267.1 L451.0 267.1 L453.0 267.0 L455.0 266.9 L457.0 266.9 L459.0 266.8 L461.0 266.6 L463.0 266.4 L465.0 266.2 L467.0 265.9 L469.0 265.6 L471.0 265.2 L473.0 264.8 L475.0 264.5 L477.0 264.1 L479.0 263.7 L481.0 263.2 L483.0 262.8 L485.0 262.4 L487.0 262.0 L489.0 261.6 L491.0 261.4 L493.0 261.2 L495.0 261.0 L497.0 260.8 L499.0 260.6 L501.0 260.5 L503.0 260.3 L505.0 260.2 L507.0 260.0 L509.0 259.9 L511.0 259.8 L513.0 259.6 L515.0 259.5 L517.0 259.4 L519.0 259.2 L521.0 259.1 L523.0 258.9 L525.0 258.8 L527.0 258.6 L529.0 258.5 L531.0 258.4 L533.0 258.3 L535.0 258.2 L537.0 258.2 L539.0 258.1 L541.0 258.0 L543.0 258.0 L545.0 258.0 L547.0 257.9 L549.0 257.9 L551.0 257.8 L553.0 257.8 L555.0 257.7 L557.0 257.7 L559.0 257.6 L561.0 257.6 L563.0 257.4 L565.0 257.3 L567.0 257.1 L569.0 256.9 L571.0 256.7 L573.0 256.5 L575.0 256.3 L577.0 256.0 L579.0 255.8 L581.0 255.6 L583.0 255.4 L585.0 255.2 L587.0 255.0 L589.0 254.7 L591.0 254.5 L593.0 254.3 L595.0 254.1 L597.0 253.9 L599.0 253.8 L601.0 253.7 L603.0 253.6 L605.0 253.4 L607.0 253.3 L609.0 253.2 L611.0 253.1 L613.0 253.1 L615.0 253.0 L617.0 252.9 L619.0 252.9 L621.0 252.8 L623.0 252.8 L625.0 252.8 L627.0 252.8 L629.0 252.8 L631.0 252.8 L633.0 252.8 L635.0 252.8 L637.0 252.8 L639.0 252.8 L641.0 252.9 L643.0 252.9 L645.0 252.9 L647.0 252.9 L649.0 252.9 L651.0 252.9 L653.0 252.9 L655.0 252.9 L657.0 252.9 L659.0 252.8 L661.0 252.8 L663.0 252.8 L665.0 252.8 L667.0 252.7 L669.0 252.7 L671.0 252.7 L673.0 252.6 L675.0 252.6 L677.0 252.5 L679.0 252.5 L681.0 252.5 L683.0 252.4 L685.0 252.4 L687.0 252.3 L689.0 252.2 L691.0 252.2 L693.0 252.1 L695.0 252.0 L697.0 251.9 L699.0 251.8 L701.0 251.8 L703.0 251.7 L705.0 251.6 L707.0 251.5"/>
<path d="M87.0 177.5 L87.5 178.0 L88.0 178.5 L88.5 179.1 L89.0 179.6 L89.5 180.1 L90.0 180.6 L90.5 181.2 L91.0 181.7 L91.5 182.2 L92.0 182.7 L92.5 183.3 L93.0 183.8 L93.5 184.3 L94.0 184.9 L94.5 185.4 L95.0 185.9 L95.5 186.5 L96.0 187.0 L96.5 187.5 L97.0 188.1 L97.5 188.6 L98.0 189.1 L98.5 189.6 L99.0 190.1 L99.5 190.6 L100.0 191.1 L100.5 191.6 L101.0 192.1 L101.5 192.7 L102.0 193.3 L102.5 193.9 L103.0 194.5 L103.5 195.1 L104.0 195.8 L104.5 196.5 L105.0 197.3 L105.5 198.2 L106.0 199.1 L106.5 200.0 L107.0 201.0 L107.5 202.0 L108.0 203.0 L108.5 203.9 L109.0 204.9 L109.5 205.9 L110.0 206.8 L110.5 207.7 L111.0 208.5 L111.5 209.3 L112.0 210.1 L112.5 210.8 L113.0 211.6 L113.5 212.3 L114.0 213.0 L114.5 213.7 L115.0 214.5 L115.5 215.2 L116.0 216.0 L116.5 216.7 L117.0 217.5 L117.5 218.3 L118.0 219.2 L118.5 220.0 L119.0 220.9 L119.5 221.7 L120.0 222.6 L120.5 223.5 L121.0 224.4 L121.5 225.3 L122.0 226.2 L122.5 227.2 L123.0 228.1 L123.5 229.0 L124.0 230.0 L124.5 231.0 L125.0 231.9 L125.5 232.9 L126.0 233.9 L126.5 234.9 L127.0 236.0 L127.5 237.0 L128.0 238.1 L128.5 239.1 L129.0 240.2 L129.5 241.3 L130.0 242.5 L130.5 243.6 L131.0 244.9 L131.5 246.2 L132.0 247.5 L132.5 248.8 L133.0 250.1 L133.5 251.4 L134.0 252.7 L134.5 253.9 L135.0 255.1 L135.5 256.3 L136.0 257.3 L136.5 258.3 L137.0 259.2 L137.5 260.1 L138.0 261.0 L138.5 262.0 L139.0 263.0 L139.5 264.1 L140.0 265.2 L140.5 266.4 L141.0 267.6 L141.5 268.8 L142.0 270.0 L142.5 271.3 L143.0 272.6 L143.5 273.9 L144.0 275.2 L144.5 276.6 L145.0 277.9 L145.5 279.3 L146.0 280.7 L146.5 282.1 L147.0 283.6 L147.5 285.0 L148.0 286.5 L148.5 287.9 L149.0 289.4 L149.5 290.8 L150.0 292.3 L150.5 293.8 L151.0 295.3 L151.5 296.8 L152.0 298.3 L152.5 299.8 L153.0 301.2 L153.5 302.7 L154.0 304.2 L154.5 305.7 L155.0 307.1 L155.5 308.6 L156.0 310.0 L156.5 311.5 L157.0 312.9 L157.5 314.3 L158.0 315.7 L158.5 317.1 L159.0 318.6 L159.5 320.0 L160.0 321.5 L160.5 322.9 L161.0 324.3 L161.5 325.8 L162.0 327.2 L162.5 328.6 L163.0 329.9 L163.5 331.2 L164.0 332.5 L164.5 333.7 L165.0 334.9 L165.5 336.0 L166.0 337.1 L166.5 338.2 L167.0 339.3 L167.5 340.4 L168.0 341.5 L168.5 342.6 L169.0 343.8 L169.5 344.9 L170.0 346.1 L170.5 347.3 L171.0 348.6 L171.5 349.8 L172.0 351.1 L172.5 352.3 L173.0 353.6 L173.5 354.9 L174.0 356.3 L174.5 357.7 L175.0 359.1 L175.5 360.6 L176.0 362.1 L176.5 363.6 L177.0 365.0 L177.5 366.5 L178.0 368.0 L178.5 369.3 L179.0 370.7 L179.5 372.0 L180.0 373.2 L180.5 374.5 L181.0 375.7 L181.5 376.9 L182.0 378.1 L182.5 379.3 L183.0 380.5 L183.5 381.6 L184.0 382.8 L184.5 383.9 L185.0 385.0 L185.5 386.1 L186.0 387.2 L186.5 388.2 L187.0 389.3 L187.5 390.3 L188.0 391.3 L188.5 392.3 L189.0 393.3 L189.5 394.3 L190.0 395.3 L190.5 396.3 L191.0 397.2 L191.5 398.2 L192.0 399.1 L192.5 400.0 L193.0 400.9 L193.5 401.8 L194.0 402.7 L194.5 403.6 L195.0 404.5 L195.5 405.4 L196.0 406.3 L196.5 407.1 L197.0 408.0 L197.5 408.8 L198.0 409.6 L198.5 410.3 L199.0 411.1 L199.5 411.8 L200.0 412.5 L200.5 413.2 L201.0 413.8 L201.5 414.5 L202.0 415.1 L202.5 415.7 L203.0 416.3 L203.5 416.9 L204.0 417.4 L204.5 418.0 L205.0 418.5 L205.5 419.0 L206.0 419.5 L206.5 420.0 L207.0 420.5 L207.5 421.0 L208.0 421.5 L208.5 421.9 L209.0 422.4 L209.5 422.8 L210.0 423.3 L210.5 423.7 L211.0 424.2 L211.5 424.6 L212.0 425.0 L212.5 425.4 L213.0 425.8 L213.5 426.2 L214.0 426.6 L214.5 426.9 L215.0 427.3 L215.5 427.6 L216.0 427.9 L216.5 428.2 L217.0 428.5 L217.5 428.8 L218.0 429.0 L218.5 429.3 L219.0 429.5 L219.5 429.8 L220.0 430.1 L220.5 430.3 L221.0 430.6 L221.5 430.8 L222.0 431.0 L222.5 431.2 L223.0 431.4 L223.5 431.6 L224.0 431.7 L224.5 431.8 L225.0 431.9 L225.5 432.0 L226.0 432.0 L226.5 432.0 L227.0 432.0 L227.5 431.9 L228.0 431.9 L228.5 431.9 L229.0 431.8 L229.5 431.7 L230.0 431.6 L230.5 431.5 L231.0 431.5 L231.5 431.3 L232.0 431.2 L232.5 431.1 L233.0 431.0 L233.5 430.8 L234.0 430.6 L234.5 430.2 L235.0 429.9 L235.5 429.4 L236.0 428.9 L236.5 428.4 L237.0 427.9 L237.5 427.4 L238.0 426.9 L238.5 426.4 L239.0 426.0 L239.5 425.6 L240.0 425.2 L240.5 424.8 L241.0 424.4 L241.5 424.0 L242.0 423.6 L242.5 423.3 L243.0 422.9 L243.5 422.5 L244.0 422.1 L244.5 421.8 L245.0 421.4 L245.5 421.0 L246.0 420.6 L246.5 420.2 L247.0 419.8 L247.5 419.4 L248.0 419.0 L248.5 418.5 L249.0 418.1 L249.5 417.6 L250.0 417.1 L250.5 416.6 L251.0 416.1 L251.5 415.6 L252.0 415.0 L252.5 414.4 L253.0 413.8 L253.5 413.1 L254.0 412.3 L254.5 411.5 L255.0 410.7 L255.5 409.9 L256.0 409.0 L256.5 408.1 L257.0 407.2 L257.5 406.2 L258.0 405.2 L258.5 404.3 L259.0 403.3 L259.5 402.3 L261.0 399.2 L263.0 395.3 L265.0 391.7 L267.0 388.4 L269.0 385.4 L271.0 382.6 L273.0 379.8 L275.0 377.1 L277.0 374.4 L279.0 371.8 L281.0 369.1 L283.0 366.4 L285.0 363.6 L287.0 360.7 L289.0 357.7 L291.0 354.6 L293.0 351.3 L295.0 348.1 L297.0 344.8 L299.0 341.6 L301.0 338.4 L303.0 335.4 L305.0 332.5 L307.0 329.6 L309.0 326.7 L311.0 323.9 L313.0 321.2 L315.0 318.6 L317.0 316.2 L319.0 314.0 L321.0 312.1 L323.0 310.2 L325.0 308.5 L327.0 306.9 L329.0 305.4 L331.0 303.9 L333.0 302.5 L335.0 301.2 L337.0 299.9 L339.0 298.6 L341.0 297.4 L343.0 296.2 L345.0 295.0 L347.0 293.9 L349.0 292.8 L351.0 291.7 L353.0 290.7 L355.0 289.7 L357.0 288.8 L359.0 287.9 L361.0 287.1 L363.0 286.4 L365.0 285.7 L367.0 285.0 L369.0 284.3 L371.0 283.7 L373.0 282.9 L375.0 282.2 L377.0 281.5 L379.0 280.8 L381.0 280.1 L383.0 279.5 L385.0 279.0 L387.0 278.6 L389.0 278.2 L391.0 277.8 L393.0 277.5 L395.0 277.2 L397.0 276.9 L399.0 276.6 L401.0 276.2 L403.0 275.8 L405.0 275.5 L407.0 275.1 L409.0 274.6 L411.0 274.2 L413.0 273.8 L415.0 273.4 L417.0 273.0 L419.0 272.6 L421.0 272.3 L423.0 271.9 L425.0 271.6 L427.0 271.3 L429.0 271.1 L431.0 270.9 L433.0 270.7 L435.0 270.6 L437.0 270.4 L439.0 270.3 L441.0 270.2 L443.0 270.1 L445.0 270.0 L447.0 269.9 L449.0 269.8 L451.0 269.7 L453.0 269.6 L455.0 269.4 L457.0 269.3 L459.0 269.1 L461.0 268.9 L463.0 268.6 L465.0 268.3 L467.0 268.0 L469.0 267.7 L471.0 267.3 L473.0 266.9 L475.0 266.5 L477.0 266.1 L479.0 265.6 L481.0 265.1 L483.0 264.5 L485.0 264.0 L487.0 263.5 L489.0 263.2 L491.0 262.9 L493.0 262.6 L495.0 262.4 L497.0 262.1 L499.0 261.9 L501.0 261.7 L503.0 261.5 L505.0 261.4 L507.0 261.2 L509.0 261.0 L511.0 260.9 L513.0 260.7 L515.0 260.5 L517.0 260.3 L519.0 260.1 L521.0 259.8 L523.0 259.6 L525.0 259.4 L527.0 259.2 L529.0 259.0 L531.0 258.9 L533.0 258.8 L535.0 258.8 L537.0 258.8 L539.0 258.8 L541.0 258.8 L543.0 258.8 L545.0 258.8 L547.0 258.8 L549.0 258.8 L551.0 258.8 L553.0 258.9 L555.0 258.9 L557.0 259.0 L559.0 259.1 L561.0 259.1 L563.0 259.1 L565.0 259.1 L567.0 259.1 L569.0 259.1 L571.0 259.1 L573.0 259.1 L575.0 259.1 L577.0 259.1 L579.0 259.1 L581.0 259.1 L583.0 259.1 L585.0 259.0 L587.0 259.0 L589.0 258.9 L591.0 258.8 L593.0 258.7 L595.0 258.7 L597.0 258.6 L599.0 258.6 L601.0 258.5 L603.0 258.5 L605.0 258.5 L607.0 258.5 L609.0 258.5 L611.0 258.5 L613.0 258.5 L615.0 258.5 L617.0 258.5 L619.0 258.5 L621.0 258.5 L623.0 258.5 L625.0 258.4 L627.0 258.5 L629.0 258.5 L631.0 258.5 L633.0 258.5 L635.0 258.5 L637.0 258.6 L639.0 258.6 L641.0 258.6 L643.0 258.7 L645.0 258.7 L647.0 258.7 L649.0 258.8 L651.0 258.8 L653.0 258.9 L655.0 259.0 L657.0 259.1 L659.0 259.2 L661.0 259.3 L663.0 259.4 L665.0 259.5 L667.0 259.6 L669.0 259.8 L671.0 259.9 L673.0 260.0 L675.0 260.2 L677.0 260.3 L679.0 260.4 L681.0 260.6 L683.0 260.7 L685.0 260.9 L687.0 261.0 L689.0 261.1 L691.0 261.3 L693.0 261.4 L695.0 261.6 L697.0 261.8 L699.0 261.9 L701.0 262.1 L703.0 262.2 L705.0 262.4 L707.0 262.6"/>
<path d="M87.0 150.8 L87.5 150.8 L88.0 150.9 L88.5 150.9 L89.0 151.0 L89.5 151.1 L90.0 151.2 L90.5 151.4 L91.0 151.5 L91.5 151.7 L92.0 151.9 L92.5 152.1 L93.0 152.5 L93.5 153.1 L94.0 153.8 L94.5 154.6 L95.0 155.5 L95.5 156.3 L96.0 157.0 L96.5 157.7 L97.0 158.3 L97.5 159.0 L98.0 159.6 L98.5 160.3 L99.0 160.9 L99.5 161.6 L100.0 162.3 L100.5 163.0 L101.0 163.7 L101.5 164.5 L102.0 165.3 L102.5 166.1 L103.0 166.9 L103.5 167.7 L104.0 168.6 L104.5 169.5 L105.0 170.4 L105.5 171.3 L106.0 172.3 L106.5 173.4 L107.0 174.5 L107.5 175.7 L108.0 176.9 L108.5 178.1 L109.0 179.3 L109.5 180.5 L110.0 181.6 L110.5 182.6 L111.0 183.5 L111.5 184.4 L112.0 185.2 L112.5 185.9 L113.0 186.7 L113.5 187.4 L114.0 188.1 L114.5 188.8 L115.0 189.5 L115.5 190.2 L116.0 190.9 L116.5 191.7 L117.0 192.5 L117.5 193.4 L118.0 194.2 L118.5 195.2 L119.0 196.1 L119.5 197.1 L120.0 198.1 L120.5 199.1 L121.0 200.2 L121.5 201.2 L122.0 202.3 L122.5 203.4 L123.0 204.5 L123.5 205.6 L124.0 206.7 L124.5 207.8 L125.0 209.0 L125.5 210.1 L126.0 211.3 L126.5 212.5 L127.0 213.8 L127.5 215.0 L128.0 216.2 L128.5 217.5 L129.0 218.8 L129.5 220.0 L130.0 221.3 L130.5 222.5 L131.0 223.7 L131.5 225.0 L132.0 226.3 L132.5 227.5 L133.0 228.8 L133.5 230.1 L134.0 231.4 L134.5 232.6 L135.0 233.9 L135.5 235.2 L136.0 236.5 L136.5 237.7 L137.0 239.0 L137.5 240.3 L138.0 241.5 L138.5 242.7 L139.0 244.0 L139.5 245.2 L140.0 246.4 L140.5 247.6 L141.0 248.8 L141.5 250.0 L142.0 251.1 L142.5 252.3 L143.0 253.5 L143.5 254.7 L144.0 255.9 L144.5 257.1 L145.0 258.3 L145.5 259.5 L146.0 260.7 L146.5 261.9 L147.0 263.2 L147.5 264.4 L148.0 265.6 L148.5 266.8 L149.0 268.0 L149.5 269.2 L150.0 270.4 L150.5 271.6 L151.0 272.9 L151.5 274.1 L152.0 275.3 L152.5 276.5 L153.0 277.7 L153.5 278.9 L154.0 280.1 L154.5 281.4 L155.0 282.6 L155.5 283.8 L156.0 285.0 L156.5 286.2 L157.0 287.5 L157.5 288.7 L158.0 289.9 L158.5 291.2 L159.0 292.4 L159.5 293.7 L160.0 294.9 L160.5 296.2 L161.0 297.4 L161.5 298.7 L162.0 300.0 L162.5 301.3 L163.0 302.5 L163.5 303.8 L164.0 305.1 L164.5 306.4 L165.0 307.7 L165.5 309.0 L166.0 310.3 L166.5 311.7 L167.0 313.0 L167.5 314.3 L168.0 315.7 L168.5 317.1 L169.0 318.5 L169.5 319.9 L170.0 321.3 L170.5 322.8 L171.0 324.3 L171.5 325.7 L172.0 327.2 L172.5 328.6 L173.0 330.0 L173.5 331.4 L174.0 332.8 L174.5 334.1 L175.0 335.5 L175.5 336.8 L176.0 338.2 L176.5 339.5 L177.0 340.9 L177.5 342.2 L178.0 343.6 L178.5 345.0 L179.0 346.3 L179.5 347.7 L180.0 349.0 L180.5 350.4 L181.0 351.7 L181.5 353.1 L182.0 354.4 L182.5 355.8 L183.0 357.1 L183.5 358.4 L184.0 359.8 L184.5 361.1 L185.0 362.4 L185.5 363.7 L186.0 365.1 L186.5 366.4 L187.0 367.7 L187.5 369.0 L188.0 370.2 L188.5 371.5 L189.0 372.8 L189.5 374.1 L190.0 375.3 L190.5 376.6 L191.0 377.8 L191.5 379.0 L192.0 380.2 L192.5 381.4 L193.0 382.6 L193.5 383.8 L194.0 385.0 L194.5 386.1 L195.0 387.3 L195.5 388.4 L196.0 389.6 L196.5 390.7 L197.0 391.8 L197.5 392.8 L198.0 393.9 L198.5 395.0 L199.0 396.0 L199.5 397.0 L200.0 398.0 L200.5 399.0 L201.0 400.0 L201.5 401.0 L202.0 401.9 L202.5 402.8 L203.0 403.7 L203.5 404.6 L204.0 405.5 L204.5 406.4 L205.0 407.3 L205.5 408.1 L206.0 408.9 L206.5 409.7 L207.0 410.5 L207.5 411.3 L208.0 412.1 L208.5 412.8 L209.0 413.6 L209.5 414.3 L210.0 415.0 L210.5 415.7 L211.0 416.4 L211.5 417.1 L212.0 417.8 L212.5 418.5 L213.0 419.2 L213.5 419.8 L214.0 420.5 L214.5 421.2 L215.0 421.8 L215.5 422.4 L216.0 423.0 L216.5 423.6 L217.0 424.2 L217.5 424.7 L218.0 425.2 L218.5 425.7 L219.0 426.2 L219.5 426.6 L220.0 427.0 L220.5 427.4 L221.0 427.8 L221.5 428.2 L222.0 428.6 L222.5 428.9 L223.0 429.3 L223.5 429.7 L224.0 430.0 L224.5 430.3 L225.0 430.6 L225.5 430.9 L226.0 431.1 L226.5 431.3 L227.0 431.4 L227.5 431.5 L228.0 431.5 L228.5 431.5 L229.0 431.5 L229.5 431.5 L230.0 431.5 L230.5 431.5 L231.0 431.5 L231.5 431.5 L232.0 431.5 L232.5 431.5 L233.0 431.5 L233.5 431.5 L234.0 431.5 L234.5 431.4 L235.0 431.3 L235.5 431.0 L236.0 430.7 L236.5 430.3 L237.0 429.8 L237.5 429.4 L238.0 428.9 L238.5 428.4 L239.0 427.9 L239.5 427.4 L240.0 427.0 L240.5 426.6 L241.0 426.2 L241.5 425.8 L242.0 425.4 L242.5 425.1 L243.0 424.7 L243.5 424.3 L244.0 423.9 L244.5 423.6 L245.0 423.2 L245.5 422.8 L246.0 422.4 L246.5 422.0 L247.0 421.6 L247.5 421.2 L248.0 420.8 L248.5 420.4 L249.0 419.9 L249.5 419.5 L250.0 419.1 L250.5 418.6 L251.0 418.1 L251.5 417.6 L252.0 417.1 L252.5 416.6 L253.0 416.1 L253.5 415.6 L254.0 415.0 L254.5 414.4 L255.0 413.8 L255.5 413.1 L256.0 412.4 L256.5 411.6 L257.0 410.9 L257.5 410.1 L258.0 409.2 L258.5 408.4 L259.0 407.5 L259.5 406.6 L261.0 403.8 L263.0 400.0 L265.0 396.1 L267.0 392.5 L269.0 389.2 L271.0 386.1 L273.0 383.1 L275.0 380.2 L277.0 377.3 L279.0 374.5 L281.0 371.7 L283.0 368.8 L285.0 366.0 L287.0 363.0 L289.0 360.0 L291.0 356.9 L293.0 353.6 L295.0 350.3 L297.0 346.9 L299.0 343.7 L301.0 340.5 L303.0 337.4 L305.0 334.5 L307.0 331.6 L309.0 328.7 L311.0 325.9 L313.0 323.2 L315.0 320.6 L317.0 318.2 L319.0 316.0 L321.0 314.0 L323.0 312.2 L325.0 310.5 L327.0 308.9 L329.0 307.3 L331.0 305.9 L333.0 304.5 L335.0 303.1 L337.0 301.8 L339.0 300.6 L341.0 299.4 L343.0 298.2 L345.0 297.1 L347.0 296.1 L349.0 295.0 L351.0 294.0 L353.0 293.1 L355.0 292.1 L357.0 291.3 L359.0 290.4 L361.0 289.6 L363.0 288.9 L365.0 288.2 L367.0 287.5 L369.0 286.8 L371.0 286.2 L373.0 285.5 L375.0 284.9 L377.0 284.2 L379.0 283.6 L381.0 283.1 L383.0 282.5 L385.0 282.0 L387.0 281.5 L389.0 281.1 L391.0 280.7 L393.0 280.3 L395.0 279.9 L397.0 279.5 L399.0 279.2 L401.0 278.8 L403.0 278.4 L405.0 278.1 L407.0 277.7 L409.0 277.3 L411.0 277.0 L413.0 276.6 L415.0 276.3 L417.0 275.9 L419.0 275.6 L421.0 275.3 L423.0 275.0 L425.0 274.7 L427.0 274.4 L429.0 274.1 L431.0 273.9 L433.0 273.6 L435.0 273.4 L437.0 273.2 L439.0 273.1 L441.0 272.9 L443.0 272.7 L445.0 272.6 L447.0 272.4 L449.0 272.2 L451.0 272.0 L453.0 271.8 L455.0 271.6 L457.0 271.4 L459.0 271.1 L461.0 270.9 L463.0 270.5 L465.0 270.2 L467.0 269.7 L469.0 269.3 L471.0 268.9 L473.0 268.4 L475.0 268.0 L477.0 267.5 L479.0 267.1 L481.0 266.5 L483.0 266.0 L485.0 265.5 L487.0 265.1 L489.0 264.7 L491.0 264.3 L493.0 264.0 L495.0 263.8 L497.0 263.5 L499.0 263.3 L501.0 263.0 L503.0 262.8 L505.0 262.6 L507.0 262.4 L509.0 262.2 L511.0 261.9 L513.0 261.7 L515.0 261.5 L517.0 261.3 L519.0 261.0 L521.0 260.8 L523.0 260.5 L525.0 260.2 L527.0 260.0 L529.0 259.8 L531.0 259.6 L533.0 259.4 L535.0 259.3 L537.0 259.2 L539.0 259.1 L541.0 259.0 L543.0 258.9 L545.0 258.9 L547.0 258.8 L549.0 258.8 L551.0 258.8 L553.0 258.8 L555.0 258.7 L557.0 258.7 L559.0 258.7 L561.0 258.7 L563.0 258.6 L565.0 258.6 L567.0 258.5 L569.0 258.4 L571.0 258.3 L573.0 258.2 L575.0 258.1 L577.0 258.0 L579.0 257.9 L581.0 257.9 L583.0 257.7 L585.0 257.6 L587.0 257.5 L589.0 257.4 L591.0 257.2 L593.0 257.1 L595.0 257.0 L597.0 256.9 L599.0 256.9 L601.0 256.8 L603.0 256.8 L605.0 256.7 L607.0 256.7 L609.0 256.6 L611.0 256.6 L613.0 256.5 L615.0 256.5 L617.0 256.5 L619.0 256.5 L621.0 256.4 L623.0 256.4 L625.0 256.4 L627.0 256.4 L629.0 256.4 L631.0 256.4 L633.0 256.4 L635.0 256.4 L637.0 256.5 L639.0 256.5 L641.0 256.5 L643.0 256.5 L645.0 256.5 L647.0 256.5 L649.0 256.5 L651.0 256.5 L653.0 256.5 L655.0 256.6 L657.0 256.6 L659.0 256.6 L661.0 256.6 L663.0 256.7 L665.0 256.7 L667.0 256.7 L669.0 256.7 L671.0 256.8 L673.0 256.8 L675.0 256.8 L677.0 256.8 L679.0 256.8 L681.0 256.8 L683.0 256.8 L685.0 256.9 L687.0 256.9 L689.0 256.9 L691.0 256.9 L693.0 256.9 L695.0 256.9 L697.0 256.9 L699.0 256.9 L701.0 256.9 L703.0 256.9 L705.0 256.9 L707.0 256.9"/>
<path d="M87.0 143.3 L87.5 144.5 L88.0 145.7 L88.5 146.9 L89.0 148.1 L89.5 149.2 L90.0 150.2 L90.5 151.1 L91.0 151.9 L91.5 152.5 L92.0 153.1 L92.5 153.4 L93.0 153.8 L93.5 154.0 L94.0 154.3 L94.5 154.5 L95.0 154.7 L95.5 154.9 L96.0 155.1 L96.5 155.2 L97.0 155.4 L97.5 155.5 L98.0 155.7 L98.5 155.8 L99.0 156.0 L99.5 156.2 L100.0 156.4 L100.5 156.6 L101.0 156.8 L101.5 157.1 L102.0 157.3 L102.5 157.6 L103.0 157.9 L103.5 158.1 L104.0 158.4 L104.5 158.7 L105.0 159.0 L105.5 159.3 L106.0 159.6 L106.5 159.9 L107.0 160.2 L107.5 160.6 L108.0 160.9 L108.5 161.3 L109.0 161.7 L109.5 162.1 L110.0 162.6 L110.5 163.1 L111.0 163.6 L111.5 164.2 L112.0 164.8 L112.5 165.4 L113.0 166.1 L113.5 166.7 L114.0 167.4 L114.5 168.1 L115.0 168.7 L115.5 169.4 L116.0 170.0 L116.5 170.7 L117.0 171.3 L117.5 171.9 L118.0 172.5 L118.5 173.1 L119.0 173.7 L119.5 174.2 L120.0 174.8 L120.5 175.4 L121.0 175.9 L121.5 176.5 L122.0 177.2 L122.5 177.8 L123.0 178.5 L123.5 179.2 L124.0 180.0 L124.5 180.8 L125.0 181.8 L125.5 182.7 L126.0 183.8 L126.5 184.9 L127.0 186.0 L127.5 187.2 L128.0 188.4 L128.5 189.6 L129.0 190.9 L129.5 192.1 L130.0 193.3 L130.5 194.5 L131.0 195.7 L131.5 196.9 L132.0 198.2 L132.5 199.4 L133.0 200.7 L133.5 202.0 L134.0 203.3 L134.5 204.6 L135.0 205.8 L135.5 207.1 L136.0 208.4 L136.5 209.7 L137.0 211.0 L137.5 212.2 L138.0 213.4 L138.5 214.6 L139.0 215.8 L139.5 217.0 L140.0 218.2 L140.5 219.4 L141.0 220.6 L141.5 221.8 L142.0 223.0 L142.5 224.2 L143.0 225.4 L143.5 226.7 L144.0 228.0 L144.5 229.3 L145.0 230.7 L145.5 232.1 L146.0 233.5 L146.5 234.9 L147.0 236.3 L147.5 237.8 L148.0 239.2 L148.5 240.6 L149.0 242.0 L149.5 243.4 L150.0 244.7 L150.5 246.0 L151.0 247.3 L151.5 248.7 L152.0 250.0 L152.5 251.3 L153.0 252.6 L153.5 253.9 L154.0 255.3 L154.5 256.6 L155.0 258.0 L155.5 259.4 L156.0 260.9 L156.5 262.3 L157.0 263.8 L157.5 265.3 L158.0 266.9 L158.5 268.4 L159.0 270.0 L159.5 271.6 L160.0 273.2 L160.5 274.8 L161.0 276.4 L161.5 278.1 L162.0 279.7 L162.5 281.4 L163.0 283.1 L163.5 284.8 L164.0 286.4 L164.5 288.1 L165.0 289.8 L165.5 291.5 L166.0 293.2 L166.5 294.9 L167.0 296.7 L167.5 298.4 L168.0 300.1 L168.5 301.8 L169.0 303.5 L169.5 305.1 L170.0 306.8 L170.5 308.5 L171.0 310.2 L171.5 311.8 L172.0 313.5 L172.5 315.1 L173.0 316.7 L173.5 318.3 L174.0 319.9 L174.5 321.5 L175.0 323.1 L175.5 324.6 L176.0 326.1 L176.5 327.6 L177.0 329.1 L177.5 330.6 L178.0 332.0 L178.5 333.5 L179.0 334.9 L179.5 336.4 L180.0 337.8 L180.5 339.3 L181.0 340.7 L181.5 342.2 L182.0 343.6 L182.5 345.1 L183.0 346.5 L183.5 347.9 L184.0 349.4 L184.5 350.8 L185.0 352.2 L185.5 353.6 L186.0 355.0 L186.5 356.4 L187.0 357.8 L187.5 359.2 L188.0 360.6 L188.5 362.0 L189.0 363.4 L189.5 364.7 L190.0 366.1 L190.5 367.5 L191.0 368.8 L191.5 370.1 L192.0 371.5 L192.5 372.8 L193.0 374.1 L193.5 375.4 L194.0 376.7 L194.5 378.0 L195.0 379.2 L195.5 380.5 L196.0 381.7 L196.5 383.0 L197.0 384.2 L197.5 385.4 L198.0 386.6 L198.5 387.8 L199.0 389.0 L199.5 390.2 L200.0 391.3 L200.5 392.4 L201.0 393.6 L201.5 394.7 L202.0 395.8 L202.5 396.8 L203.0 397.9 L203.5 399.0 L204.0 400.0 L204.5 401.0 L205.0 402.0 L205.5 403.0 L206.0 404.0 L206.5 404.9 L207.0 405.9 L207.5 406.8 L208.0 407.7 L208.5 408.6 L209.0 409.5 L209.5 410.3 L210.0 411.2 L210.5 412.0 L211.0 412.8 L211.5 413.7 L212.0 414.5 L212.5 415.2 L213.0 416.0 L213.5 416.8 L214.0 417.5 L214.5 418.3 L215.0 419.1 L215.5 419.9 L216.0 420.6 L216.5 421.4 L217.0 422.1 L217.5 422.8 L218.0 423.5 L218.5 424.2 L219.0 424.9 L219.5 425.5 L220.0 426.1 L220.5 426.6 L221.0 427.1 L221.5 427.6 L222.0 428.0 L222.5 428.4 L223.0 428.8 L223.5 429.2 L224.0 429.6 L224.5 430.0 L225.0 430.3 L225.5 430.7 L226.0 431.0 L226.5 431.3 L227.0 431.6 L227.5 431.9 L228.0 432.1 L228.5 432.3 L229.0 432.4 L229.5 432.5 L230.0 432.5 L230.5 432.5 L231.0 432.5 L231.5 432.5 L232.0 432.5 L232.5 432.5 L233.0 432.5 L233.5 432.5 L234.0 432.5 L234.5 432.5 L235.0 432.5 L235.5 432.5 L236.0 432.5 L236.5 432.5 L237.0 432.5 L237.5 432.5 L238.0 432.3 L238.5 432.2 L239.0 431.9 L239.5 431.6 L240.0 431.3 L240.5 430.9 L241.0 430.5 L241.5 430.1 L242.0 429.7 L242.5 429.3 L243.0 428.8 L243.5 428.4 L244.0 428.0 L244.5 427.6 L245.0 427.2 L245.5 426.8 L246.0 426.4 L246.5 425.9 L247.0 425.5 L247.5 425.0 L248.0 424.5 L248.5 424.0 L249.0 423.6 L249.5 423.0 L250.0 422.5 L250.5 422.0 L251.0 421.5 L251.5 420.9 L252.0 420.4 L252.5 419.8 L253.0 419.2 L253.5 418.7 L254.0 418.1 L254.5 417.5 L255.0 416.9 L255.5 416.3 L256.0 415.6 L256.5 415.0 L257.0 414.3 L257.5 413.7 L258.0 413.0 L258.5 412.2 L259.0 411.5 L259.5 410.7 L261.0 408.2 L263.0 404.7 L265.0 401.1 L267.0 397.5 L269.0 394.0 L271.0 390.8 L273.0 387.8 L275.0 384.9 L277.0 382.1 L279.0 379.4 L281.0 376.8 L283.0 374.2 L285.0 371.6 L287.0 369.0 L289.0 366.3 L291.0 363.5 L293.0 360.7 L295.0 357.8 L297.0 354.7 L299.0 351.5 L301.0 348.4 L303.0 345.4 L305.0 342.6 L307.0 339.7 L309.0 336.8 L311.0 334.0 L313.0 331.3 L315.0 328.7 L317.0 326.3 L319.0 324.0 L321.0 322.0 L323.0 320.0 L325.0 318.1 L327.0 316.2 L329.0 314.4 L331.0 312.8 L333.0 311.2 L335.0 309.8 L337.0 308.5 L339.0 307.5 L341.0 306.6 L343.0 305.8 L345.0 305.1 L347.0 304.4 L349.0 303.9 L351.0 303.3 L353.0 302.8 L355.0 302.3 L357.0 301.8 L359.0 301.3 L361.0 300.7 L363.0 300.2 L365.0 299.8 L367.0 299.3 L369.0 298.8 L371.0 298.2 L373.0 297.6 L375.0 296.9 L377.0 296.2 L379.0 295.4 L381.0 294.7 L383.0 294.1 L385.0 293.5 L387.0 293.0 L389.0 292.5 L391.0 292.1 L393.0 291.6 L395.0 291.2 L397.0 290.7 L399.0 290.3 L401.0 289.7 L403.0 289.1 L405.0 288.5 L407.0 287.8 L409.0 287.1 L411.0 286.3 L413.0 285.6 L415.0 284.8 L417.0 284.1 L419.0 283.4 L421.0 282.7 L423.0 282.1 L425.0 281.5 L427.0 281.1 L429.0 280.7 L431.0 280.4 L433.0 280.1 L435.0 279.9 L437.0 279.7 L439.0 279.5 L441.0 279.3 L443.0 279.2 L445.0 279.0 L447.0 278.9 L449.0 278.7 L451.0 278.6 L453.0 278.4 L455.0 278.2 L457.0 277.9 L459.0 277.7 L461.0 277.3 L463.0 276.8 L465.0 276.2 L467.0 275.6 L469.0 274.8 L471.0 274.0 L473.0 273.3 L475.0 272.5 L477.0 271.7 L479.0 270.9 L481.0 270.0 L483.0 269.1 L485.0 268.2 L487.0 267.4 L489.0 266.8 L491.0 266.2 L493.0 265.8 L495.0 265.3 L497.0 264.9 L499.0 264.5 L501.0 264.2 L503.0 263.8 L505.0 263.5 L507.0 263.2 L509.0 262.9 L511.0 262.6 L513.0 262.3 L515.0 262.0 L517.0 261.7 L519.0 261.4 L521.0 261.1 L523.0 260.7 L525.0 260.4 L527.0 260.2 L529.0 259.9 L531.0 259.7 L533.0 259.6 L535.0 259.6 L537.0 259.5 L539.0 259.5 L541.0 259.5 L543.0 259.5 L545.0 259.5 L547.0 259.5 L549.0 259.5 L551.0 259.6 L553.0 259.7 L555.0 259.8 L557.0 259.9 L559.0 260.0 L561.0 260.1 L563.0 260.2 L565.0 260.3 L567.0 260.4 L569.0 260.6 L571.0 260.7 L573.0 260.8 L575.0 260.9 L577.0 261.0 L579.0 261.1 L581.0 261.1 L583.0 261.2 L585.0 261.2 L587.0 261.2 L589.0 261.3 L591.0 261.3 L593.0 261.3 L595.0 261.4 L597.0 261.4 L599.0 261.4 L601.0 261.4 L603.0 261.5 L605.0 261.5 L607.0 261.5 L609.0 261.6 L611.0 261.6 L613.0 261.6 L615.0 261.7 L617.0 261.7 L619.0 261.7 L621.0 261.8 L623.0 261.8 L625.0 261.8 L627.0 261.9 L629.0 261.9 L631.0 261.9 L633.0 261.9 L635.0 262.0 L637.0 262.0 L639.0 262.0 L641.0 262.1 L643.0 262.1 L645.0 262.1 L647.0 262.2 L649.0 262.2 L651.0 262.3 L653.0 262.4 L655.0 262.5 L657.0 262.6 L659.0 262.8 L661.0 262.9 L663.0 263.1 L665.0 263.3 L667.0 263.5 L669.0 263.7 L671.0 263.9 L673.0 264.2 L675.0 264.4 L677.0 264.6 L679.0 264.8 L681.0 265.0 L683.0 265.3 L685.0 265.5 L687.0 265.7 L689.0 266.0 L691.0 266.2 L693.0 266.5 L695.0 266.7 L697.0 267.0 L699.0 267.3 L701.0 267.6 L703.0 267.9 L705.0 268.1 L707.0 268.4"/>
<path d="M87.0 115.0 L87.5 115.5 L88.0 115.9 L88.5 116.4 L89.0 116.8 L89.5 117.2 L90.0 117.7 L90.5 118.1 L91.0 118.5 L91.5 118.9 L92.0 119.3 L92.5 119.7 L93.0 120.1 L93.5 120.4 L94.0 120.8 L94.5 121.1 L95.0 121.5 L95.5 121.8 L96.0 122.1 L96.5 122.4 L97.0 122.6 L97.5 122.9 L98.0 123.2 L98.5 123.5 L99.0 123.8 L99.5 124.1 L100.0 124.5 L100.5 124.8 L101.0 125.2 L101.5 125.7 L102.0 126.1 L102.5 126.6 L103.0 127.0 L103.5 127.5 L104.0 128.1 L104.5 128.6 L105.0 129.2 L105.5 129.8 L106.0 130.4 L106.5 131.0 L107.0 131.7 L107.5 132.4 L108.0 133.1 L108.5 133.9 L109.0 134.6 L109.5 135.4 L110.0 136.2 L110.5 137.1 L111.0 137.9 L111.5 138.7 L112.0 139.5 L112.5 140.3 L113.0 141.2 L113.5 142.0 L114.0 142.9 L114.5 143.8 L115.0 144.6 L115.5 145.5 L116.0 146.4 L116.5 147.3 L117.0 148.2 L117.5 149.1 L118.0 150.0 L118.5 150.9 L119.0 151.7 L119.5 152.5 L120.0 153.4 L120.5 154.2 L121.0 155.0 L121.5 155.8 L122.0 156.6 L122.5 157.4 L123.0 158.2 L123.5 158.9 L124.0 159.7 L124.5 160.5 L125.0 161.3 L125.5 162.1 L126.0 162.9 L126.5 163.7 L127.0 164.5 L127.5 165.3 L128.0 166.1 L128.5 166.8 L129.0 167.6 L129.5 168.3 L130.0 169.1 L130.5 170.0 L131.0 170.9 L131.5 172.0 L132.0 173.3 L132.5 175.0 L133.0 176.7 L133.5 178.5 L134.0 180.0 L134.5 181.3 L135.0 182.6 L135.5 183.7 L136.0 184.9 L136.5 186.0 L137.0 187.0 L137.5 188.1 L138.0 189.1 L138.5 190.2 L139.0 191.2 L139.5 192.3 L140.0 193.4 L140.5 194.5 L141.0 195.7 L141.5 196.9 L142.0 198.1 L142.5 199.3 L143.0 200.6 L143.5 201.8 L144.0 203.1 L144.5 204.3 L145.0 205.6 L145.5 206.9 L146.0 208.2 L146.5 209.5 L147.0 210.9 L147.5 212.3 L148.0 213.6 L148.5 215.1 L149.0 216.5 L149.5 218.0 L150.0 219.5 L150.5 221.0 L151.0 222.5 L151.5 224.0 L152.0 225.6 L152.5 227.1 L153.0 228.6 L153.5 230.2 L154.0 231.7 L154.5 233.2 L155.0 234.8 L155.5 236.4 L156.0 238.0 L156.5 239.5 L157.0 241.1 L157.5 242.6 L158.0 244.1 L158.5 245.6 L159.0 247.0 L159.5 248.4 L160.0 249.9 L160.5 251.3 L161.0 252.7 L161.5 254.2 L162.0 255.6 L162.5 257.1 L163.0 258.6 L163.5 260.1 L164.0 261.7 L164.5 263.3 L165.0 264.9 L165.5 266.6 L166.0 268.3 L166.5 270.0 L167.0 271.8 L167.5 273.5 L168.0 275.3 L168.5 277.1 L169.0 278.9 L169.5 280.7 L170.0 282.6 L170.5 284.4 L171.0 286.3 L171.5 288.2 L172.0 290.1 L172.5 291.9 L173.0 293.8 L173.5 295.7 L174.0 297.6 L174.5 299.5 L175.0 301.4 L175.5 303.3 L176.0 305.2 L176.5 307.0 L177.0 308.9 L177.5 310.8 L178.0 312.6 L178.5 314.4 L179.0 316.2 L179.5 318.0 L180.0 319.8 L180.5 321.6 L181.0 323.3 L181.5 325.0 L182.0 326.7 L182.5 328.4 L183.0 330.0 L183.5 331.6 L184.0 333.2 L184.5 334.9 L185.0 336.5 L185.5 338.1 L186.0 339.7 L186.5 341.3 L187.0 342.9 L187.5 344.5 L188.0 346.1 L188.5 347.8 L189.0 349.4 L189.5 350.9 L190.0 352.5 L190.5 354.1 L191.0 355.7 L191.5 357.3 L192.0 358.8 L192.5 360.4 L193.0 361.9 L193.5 363.5 L194.0 365.0 L194.5 366.5 L195.0 368.0 L195.5 369.5 L196.0 371.0 L196.5 372.5 L197.0 374.0 L197.5 375.4 L198.0 376.9 L198.5 378.3 L199.0 379.7 L199.5 381.1 L200.0 382.5 L200.5 383.9 L201.0 385.2 L201.5 386.5 L202.0 387.9 L202.5 389.2 L203.0 390.4 L203.5 391.7 L204.0 393.0 L204.5 394.2 L205.0 395.4 L205.5 396.6 L206.0 397.7 L206.5 398.9 L207.0 400.0 L207.5 401.1 L208.0 402.2 L208.5 403.2 L209.0 404.3 L209.5 405.3 L210.0 406.3 L210.5 407.3 L211.0 408.3 L211.5 409.2 L212.0 410.2 L212.5 411.1 L213.0 412.0 L213.5 412.9 L214.0 413.7 L214.5 414.6 L215.0 415.4 L215.5 416.2 L216.0 417.0 L216.5 417.8 L217.0 418.6 L217.5 419.4 L218.0 420.1 L218.5 420.9 L219.0 421.7 L219.5 422.4 L220.0 423.2 L220.5 423.9 L221.0 424.6 L221.5 425.2 L222.0 425.9 L222.5 426.5 L223.0 427.1 L223.5 427.6 L224.0 428.1 L224.5 428.6 L225.0 429.0 L225.5 429.4 L226.0 429.8 L226.5 430.2 L227.0 430.6 L227.5 431.0 L228.0 431.3 L228.5 431.7 L229.0 432.0 L229.5 432.3 L230.0 432.5 L230.5 432.7 L231.0 432.9 L231.5 433.0 L232.0 433.0 L232.5 433.0 L233.0 433.0 L233.5 433.0 L234.0 433.0 L234.5 433.0 L235.0 433.0 L235.5 433.0 L236.0 433.0 L236.5 433.0 L237.0 433.0 L237.5 433.0 L238.0 433.0 L238.5 433.0 L239.0 433.0 L239.5 433.0 L240.0 433.0 L240.5 433.0 L241.0 432.9 L241.5 432.8 L242.0 432.6 L242.5 432.4 L243.0 432.1 L243.5 431.9 L244.0 431.6 L244.5 431.2 L245.0 430.9 L245.5 430.6 L246.0 430.2 L246.5 429.8 L247.0 429.5 L247.5 429.1 L248.0 428.7 L248.5 428.3 L249.0 427.8 L249.5 427.3 L250.0 426.7 L250.5 426.2 L251.0 425.6 L251.5 424.9 L252.0 424.3 L252.5 423.6 L253.0 422.9 L253.5 422.2 L254.0 421.5 L254.5 420.8 L255.0 420.1 L255.5 419.4 L256.0 418.6 L256.5 417.9 L257.0 417.2 L257.5 416.4 L258.0 415.7 L258.5 415.0 L259.0 414.3 L259.5 413.6 L261.0 411.3 L263.0 408.1 L265.0 404.8 L267.0 401.4 L269.0 398.0 L271.0 394.7 L273.0 391.5 L275.0 388.5 L277.0 385.7 L279.0 382.9 L281.0 380.2 L283.0 377.5 L285.0 374.9 L287.0 372.3 L289.0 369.6 L291.0 367.0 L293.0 364.2 L295.0 361.4 L297.0 358.5 L299.0 355.5 L301.0 352.4 L303.0 349.4 L305.0 346.6 L307.0 343.9 L309.0 341.1 L311.0 338.4 L313.0 335.8 L315.0 333.4 L317.0 331.1 L319.0 329.0 L321.0 327.1 L323.0 325.2 L325.0 323.5 L327.0 321.8 L329.0 320.2 L331.0 318.7 L333.0 317.3 L335.0 315.9 L337.0 314.7 L339.0 313.5 L341.0 312.5 L343.0 311.5 L345.0 310.6 L347.0 309.8 L349.0 309.0 L351.0 308.2 L353.0 307.5 L355.0 306.8 L357.0 306.1 L359.0 305.4 L361.0 304.6 L363.0 303.9 L365.0 303.2 L367.0 302.5 L369.0 301.9 L371.0 301.1 L373.0 300.4 L375.0 299.6 L377.0 298.8 L379.0 298.0 L381.0 297.3 L383.0 296.6 L385.0 296.0 L387.0 295.5 L389.0 295.0 L391.0 294.5 L393.0 294.1 L395.0 293.7 L397.0 293.2 L399.0 292.8 L401.0 292.2 L403.0 291.7 L405.0 291.1 L407.0 290.5 L409.0 289.8 L411.0 289.2 L413.0 288.5 L415.0 287.8 L417.0 287.2 L419.0 286.6 L421.0 286.0 L423.0 285.4 L425.0 284.8 L427.0 284.3 L429.0 283.9 L431.0 283.5 L433.0 283.2 L435.0 282.9 L437.0 282.6 L439.0 282.4 L441.0 282.1 L443.0 281.9 L445.0 281.7 L447.0 281.5 L449.0 281.2 L451.0 281.0 L453.0 280.7 L455.0 280.4 L457.0 280.1 L459.0 279.7 L461.0 279.3 L463.0 278.7 L465.0 278.0 L467.0 277.3 L469.0 276.5 L471.0 275.7 L473.0 274.8 L475.0 274.0 L477.0 273.2 L479.0 272.2 L481.0 271.3 L483.0 270.3 L485.0 269.4 L487.0 268.5 L489.0 267.8 L491.0 267.2 L493.0 266.7 L495.0 266.2 L497.0 265.7 L499.0 265.3 L501.0 264.9 L503.0 264.5 L505.0 264.2 L507.0 263.8 L509.0 263.5 L511.0 263.1 L513.0 262.8 L515.0 262.5 L517.0 262.2 L519.0 261.8 L521.0 261.5 L523.0 261.2 L525.0 260.9 L527.0 260.6 L529.0 260.4 L531.0 260.1 L533.0 260.0 L535.0 259.8 L537.0 259.7 L539.0 259.6 L541.0 259.6 L543.0 259.5 L545.0 259.4 L547.0 259.4 L549.0 259.4 L551.0 259.4 L553.0 259.5 L555.0 259.5 L557.0 259.6 L559.0 259.6 L561.0 259.6 L563.0 259.7 L565.0 259.7 L567.0 259.7 L569.0 259.8 L571.0 259.8 L573.0 259.8 L575.0 259.9 L577.0 259.9 L579.0 259.9 L581.0 259.9 L583.0 259.9 L585.0 259.9 L587.0 259.8 L589.0 259.8 L591.0 259.8 L593.0 259.8 L595.0 259.7 L597.0 259.7 L599.0 259.7 L601.0 259.7 L603.0 259.7 L605.0 259.7 L607.0 259.7 L609.0 259.7 L611.0 259.7 L613.0 259.8 L615.0 259.8 L617.0 259.8 L619.0 259.8 L621.0 259.8 L623.0 259.8 L625.0 259.8 L627.0 259.8 L629.0 259.8 L631.0 259.7 L633.0 259.7 L635.0 259.6 L637.0 259.6 L639.0 259.5 L641.0 259.4 L643.0 259.4 L645.0 259.3 L647.0 259.2 L649.0 259.1 L651.0 259.0 L653.0 258.9 L655.0 258.8 L657.0 258.7 L659.0 258.6 L661.0 258.5 L663.0 258.4 L665.0 258.2 L667.0 258.1 L669.0 257.9 L671.0 257.8 L673.0 257.6 L675.0 257.4 L677.0 257.3 L679.0 257.1 L681.0 256.9 L683.0 256.7 L685.0 256.6 L687.0 256.4 L689.0 256.2 L691.0 255.9 L693.0 255.7 L695.0 255.5 L697.0 255.3 L699.0 255.0 L701.0 254.8 L703.0 254.5 L705.0 254.3 L707.0 254.0"/>
<path d="M87.0 136.7 L87.5 136.3 L88.0 135.9 L88.5 135.4 L89.0 135.0 L89.5 134.6 L90.0 134.2 L90.5 133.9 L91.0 133.5 L91.5 133.3 L92.0 133.0 L92.5 132.8 L93.0 132.6 L93.5 132.5 L94.0 132.5 L94.5 132.5 L95.0 132.5 L95.5 132.5 L96.0 132.5 L96.5 132.5 L97.0 132.5 L97.5 132.5 L98.0 132.5 L98.5 132.5 L99.0 132.5 L99.5 132.5 L100.0 132.5 L100.5 132.5 L101.0 132.5 L101.5 132.5 L102.0 132.5 L102.5 132.5 L103.0 132.5 L103.5 132.5 L104.0 132.5 L104.5 132.5 L105.0 132.5 L105.5 132.5 L106.0 132.5 L106.5 132.5 L107.0 132.6 L107.5 132.6 L108.0 132.7 L108.5 132.8 L109.0 133.0 L109.5 133.1 L110.0 133.3 L110.5 133.4 L111.0 133.6 L111.5 133.8 L112.0 134.0 L112.5 134.2 L113.0 134.5 L113.5 134.7 L114.0 135.0 L114.5 135.2 L115.0 135.5 L115.5 135.7 L116.0 136.0 L116.5 136.3 L117.0 136.5 L117.5 136.8 L118.0 137.1 L118.5 137.5 L119.0 137.8 L119.5 138.2 L120.0 138.7 L120.5 139.1 L121.0 139.6 L121.5 140.1 L122.0 140.7 L122.5 141.2 L123.0 141.8 L123.5 142.4 L124.0 142.9 L124.5 143.5 L125.0 144.1 L125.5 144.8 L126.0 145.4 L126.5 146.0 L127.0 146.7 L127.5 147.4 L128.0 148.1 L128.5 148.9 L129.0 149.7 L129.5 150.5 L130.0 151.3 L130.5 152.2 L131.0 153.0 L131.5 153.9 L132.0 154.7 L132.5 155.6 L133.0 156.5 L133.5 157.4 L134.0 158.3 L134.5 159.2 L135.0 160.1 L135.5 161.0 L136.0 162.0 L136.5 162.9 L137.0 163.9 L137.5 164.9 L138.0 165.9 L138.5 166.9 L139.0 167.9 L139.5 169.0 L140.0 170.1 L140.5 171.2 L141.0 172.4 L141.5 173.6 L142.0 174.9 L142.5 176.2 L143.0 177.6 L143.5 178.9 L144.0 180.3 L144.5 181.7 L145.0 183.1 L145.5 184.5 L146.0 185.8 L146.5 187.1 L147.0 188.5 L147.5 189.8 L148.0 191.1 L148.5 192.4 L149.0 193.8 L149.5 195.1 L150.0 196.5 L150.5 197.8 L151.0 199.2 L151.5 200.7 L152.0 202.1 L152.5 203.6 L153.0 205.1 L153.5 206.7 L154.0 208.3 L154.5 209.9 L155.0 211.5 L155.5 213.2 L156.0 214.9 L156.5 216.6 L157.0 218.2 L157.5 219.9 L158.0 221.6 L158.5 223.3 L159.0 225.0 L159.5 226.7 L160.0 228.3 L160.5 230.0 L161.0 231.7 L161.5 233.4 L162.0 235.1 L162.5 236.8 L163.0 238.5 L163.5 240.3 L164.0 242.0 L164.5 243.8 L165.0 245.5 L165.5 247.3 L166.0 249.1 L166.5 250.9 L167.0 252.7 L167.5 254.5 L168.0 256.3 L168.5 258.2 L169.0 260.0 L169.5 261.9 L170.0 263.8 L170.5 265.7 L171.0 267.6 L171.5 269.5 L172.0 271.5 L172.5 273.4 L173.0 275.4 L173.5 277.4 L174.0 279.4 L174.5 281.4 L175.0 283.4 L175.5 285.4 L176.0 287.5 L176.5 289.5 L177.0 291.5 L177.5 293.5 L178.0 295.5 L178.5 297.6 L179.0 299.6 L179.5 301.6 L180.0 303.6 L180.5 305.6 L181.0 307.5 L181.5 309.5 L182.0 311.5 L182.5 313.4 L183.0 315.3 L183.5 317.2 L184.0 319.1 L184.5 321.0 L185.0 322.8 L185.5 324.7 L186.0 326.5 L186.5 328.3 L187.0 330.0 L187.5 331.7 L188.0 333.5 L188.5 335.2 L189.0 336.9 L189.5 338.7 L190.0 340.4 L190.5 342.1 L191.0 343.9 L191.5 345.6 L192.0 347.3 L192.5 349.0 L193.0 350.7 L193.5 352.4 L194.0 354.1 L194.5 355.8 L195.0 357.5 L195.5 359.1 L196.0 360.8 L196.5 362.4 L197.0 364.1 L197.5 365.7 L198.0 367.3 L198.5 368.9 L199.0 370.5 L199.5 372.1 L200.0 373.7 L200.5 375.2 L201.0 376.8 L201.5 378.3 L202.0 379.8 L202.5 381.3 L203.0 382.7 L203.5 384.2 L204.0 385.6 L204.5 387.0 L205.0 388.4 L205.5 389.8 L206.0 391.2 L206.5 392.5 L207.0 393.8 L207.5 395.1 L208.0 396.4 L208.5 397.6 L209.0 398.8 L209.5 400.0 L210.0 401.2 L210.5 402.3 L211.0 403.4 L211.5 404.5 L212.0 405.6 L212.5 406.7 L213.0 407.7 L213.5 408.7 L214.0 409.7 L214.5 410.7 L215.0 411.6 L215.5 412.6 L216.0 413.5 L216.5 414.4 L217.0 415.3 L217.5 416.2 L218.0 417.0 L218.5 417.8 L219.0 418.7 L219.5 419.5 L220.0 420.4 L220.5 421.2 L221.0 422.1 L221.5 422.9 L222.0 423.7 L222.5 424.5 L223.0 425.2 L223.5 426.0 L224.0 426.7 L224.5 427.3 L225.0 428.0 L225.5 428.5 L226.0 429.1 L226.5 429.6 L227.0 430.0 L227.5 430.4 L228.0 430.8 L228.5 431.2 L229.0 431.6 L229.5 432.0 L230.0 432.4 L230.5 432.7 L231.0 433.0 L231.5 433.3 L232.0 433.5 L232.5 433.7 L233.0 433.9 L233.5 434.0 L234.0 434.0 L234.5 434.0 L235.0 434.0 L235.5 434.0 L236.0 434.0 L236.5 434.0 L237.0 434.0 L237.5 434.0 L238.0 434.0 L238.5 434.0 L239.0 434.0 L239.5 434.0 L240.0 434.0 L240.5 434.0 L241.0 434.0 L241.5 434.0 L242.0 434.0 L242.5 434.0 L243.0 433.9 L243.5 433.8 L244.0 433.7 L244.5 433.5 L245.0 433.3 L245.5 433.1 L246.0 432.9 L246.5 432.6 L247.0 432.4 L247.5 432.1 L248.0 431.8 L248.5 431.5 L249.0 431.1 L249.5 430.8 L250.0 430.5 L250.5 430.1 L251.0 429.7 L251.5 429.2 L252.0 428.7 L252.5 428.1 L253.0 427.5 L253.5 426.9 L254.0 426.2 L254.5 425.4 L255.0 424.7 L255.5 423.9 L256.0 423.1 L256.5 422.3 L257.0 421.4 L257.5 420.6 L258.0 419.8 L258.5 419.0 L259.0 418.1 L259.5 417.3 L261.0 415.0 L263.0 412.0 L265.0 408.9 L267.0 405.7 L269.0 402.5 L271.0 399.3 L273.0 396.1 L275.0 393.0 L277.0 390.0 L279.0 387.1 L281.0 384.4 L283.0 381.7 L285.0 379.1 L287.0 376.4 L289.0 373.8 L291.0 371.2 L293.0 368.5 L295.0 365.8 L297.0 363.0 L299.0 360.0 L301.0 356.7 L303.0 353.4 L305.0 350.6 L307.0 347.8 L309.0 345.2 L311.0 342.6 L313.0 340.2 L315.0 337.9 L317.0 335.8 L319.0 333.9 L321.0 332.2 L323.0 330.6 L325.0 329.1 L327.0 327.8 L329.0 326.5 L331.0 325.3 L333.0 324.1 L335.0 322.9 L337.0 321.8 L339.0 320.6 L341.0 319.4 L343.0 318.2 L345.0 317.1 L347.0 315.9 L349.0 314.8 L351.0 313.7 L353.0 312.6 L355.0 311.5 L357.0 310.5 L359.0 309.5 L361.0 308.5 L363.0 307.6 L365.0 306.7 L367.0 305.8 L369.0 304.9 L371.0 304.1 L373.0 303.2 L375.0 302.3 L377.0 301.5 L379.0 300.6 L381.0 299.9 L383.0 299.1 L385.0 298.5 L387.0 297.9 L389.0 297.5 L391.0 297.0 L393.0 296.6 L395.0 296.2 L397.0 295.7 L399.0 295.3 L401.0 294.7 L403.0 294.2 L405.0 293.6 L407.0 293.0 L409.0 292.3 L411.0 291.7 L413.0 291.0 L415.0 290.3 L417.0 289.7 L419.0 289.0 L421.0 288.4 L423.0 287.8 L425.0 287.2 L427.0 286.7 L429.0 286.2 L431.0 285.8 L433.0 285.4 L435.0 285.1 L437.0 284.7 L439.0 284.4 L441.0 284.2 L443.0 283.9 L445.0 283.6 L447.0 283.3 L449.0 283.1 L451.0 282.8 L453.0 282.4 L455.0 282.1 L457.0 281.7 L459.0 281.2 L461.0 280.7 L463.0 280.1 L465.0 279.4 L467.0 278.5 L469.0 277.7 L471.0 276.8 L473.0 275.9 L475.0 275.0 L477.0 274.1 L479.0 273.2 L481.0 272.2 L483.0 271.3 L485.0 270.4 L487.0 269.6 L489.0 268.8 L491.0 268.2 L493.0 267.6 L495.0 267.1 L497.0 266.6 L499.0 266.1 L501.0 265.7 L503.0 265.2 L505.0 264.8 L507.0 264.4 L509.0 264.1 L511.0 263.7 L513.0 263.3 L515.0 263.0 L517.0 262.6 L519.0 262.3 L521.0 261.9 L523.0 261.6 L525.0 261.3 L527.0 260.9 L529.0 260.7 L531.0 260.4 L533.0 260.2 L535.0 260.1 L537.0 260.0 L539.0 259.9 L541.0 259.8 L543.0 259.7 L545.0 259.7 L547.0 259.6 L549.0 259.6 L551.0 259.6 L553.0 259.7 L555.0 259.7 L557.0 259.8 L559.0 259.8 L561.0 259.9 L563.0 259.9 L565.0 260.0 L567.0 260.0 L569.0 260.1 L571.0 260.2 L573.0 260.2 L575.0 260.2 L577.0 260.3 L579.0 260.3 L581.0 260.3 L583.0 260.3 L585.0 260.3 L587.0 260.3 L589.0 260.3 L591.0 260.3 L593.0 260.3 L595.0 260.3 L597.0 260.3 L599.0 260.3 L601.0 260.3 L603.0 260.3 L605.0 260.3 L607.0 260.3 L609.0 260.3 L611.0 260.3 L613.0 260.3 L615.0 260.4 L617.0 260.4 L619.0 260.4 L621.0 260.4 L623.0 260.5 L625.0 260.5 L627.0 260.5 L629.0 260.5 L631.0 260.5 L633.0 260.6 L635.0 260.6 L637.0 260.6 L639.0 260.6 L641.0 260.7 L643.0 260.7 L645.0 260.7 L647.0 260.8 L649.0 260.8 L651.0 260.9 L653.0 260.9 L655.0 261.0 L657.0 261.1 L659.0 261.2 L661.0 261.3 L663.0 261.5 L665.0 261.6 L667.0 261.8 L669.0 262.0 L671.0 262.1 L673.0 262.3 L675.0 262.5 L677.0 262.6 L679.0 262.8 L681.0 263.0 L683.0 263.1 L685.0 263.3 L687.0 263.5 L689.0 263.7 L691.0 263.9 L693.0 264.0 L695.0 264.2 L697.0 264.4 L699.0 264.7 L701.0 264.9 L703.0 265.1 L705.0 265.3 L707.0 265.5"/>
<path d="M87.0 140.0 L87.5 138.7 L88.0 137.4 L88.5 136.2 L89.0 135.0 L89.5 133.8 L90.0 132.7 L90.5 131.6 L91.0 130.6 L91.5 129.7 L92.0 128.8 L92.5 128.0 L93.0 127.2 L93.5 126.5 L94.0 125.8 L94.5 125.1 L95.0 124.5 L95.5 123.9 L96.0 123.3 L96.5 122.7 L97.0 122.1 L97.5 121.6 L98.0 121.0 L98.5 120.5 L99.0 120.0 L99.5 119.5 L100.0 119.0 L100.5 118.5 L101.0 118.0 L101.5 117.5 L102.0 116.9 L102.5 116.4 L103.0 115.8 L103.5 115.2 L104.0 114.7 L104.5 114.1 L105.0 113.6 L105.5 113.1 L106.0 112.7 L106.5 112.3 L107.0 112.0 L107.5 111.7 L108.0 111.5 L108.5 111.3 L109.0 111.3 L109.5 111.3 L110.0 111.3 L110.5 111.3 L111.0 111.3 L111.5 111.3 L112.0 111.3 L112.5 111.3 L113.0 111.3 L113.5 111.3 L114.0 111.3 L114.5 111.3 L115.0 111.3 L115.5 111.3 L116.0 111.3 L116.5 111.3 L117.0 111.3 L117.5 111.3 L118.0 111.3 L118.5 111.3 L119.0 111.3 L119.5 111.3 L120.0 111.4 L120.5 111.6 L121.0 111.8 L121.5 112.0 L122.0 112.3 L122.5 112.6 L123.0 112.9 L123.5 113.3 L124.0 113.6 L124.5 114.0 L125.0 114.4 L125.5 114.8 L126.0 115.3 L126.5 115.8 L127.0 116.3 L127.5 117.0 L128.0 117.7 L128.5 118.4 L129.0 119.2 L129.5 120.0 L130.0 120.9 L130.5 121.8 L131.0 122.7 L131.5 123.6 L132.0 124.5 L132.5 125.4 L133.0 126.3 L133.5 127.2 L134.0 128.1 L134.5 129.1 L135.0 130.1 L135.5 131.1 L136.0 132.2 L136.5 133.2 L137.0 134.3 L137.5 135.5 L138.0 136.6 L138.5 137.8 L139.0 139.0 L139.5 140.2 L140.0 141.5 L140.5 142.8 L141.0 144.1 L141.5 145.5 L142.0 147.1 L142.5 148.7 L143.0 150.3 L143.5 152.0 L144.0 153.7 L144.5 155.5 L145.0 157.3 L145.5 159.0 L146.0 160.7 L146.5 162.4 L147.0 164.0 L147.5 165.6 L148.0 167.2 L148.5 168.7 L149.0 170.1 L149.5 171.6 L150.0 173.0 L150.5 174.4 L151.0 175.9 L151.5 177.3 L152.0 178.7 L152.5 180.1 L153.0 181.6 L153.5 183.1 L154.0 184.6 L154.5 186.1 L155.0 187.7 L155.5 189.3 L156.0 191.0 L156.5 192.7 L157.0 194.5 L157.5 196.4 L158.0 198.2 L158.5 200.1 L159.0 202.0 L159.5 204.0 L160.0 205.9 L160.5 207.9 L161.0 209.9 L161.5 211.9 L162.0 213.8 L162.5 215.8 L163.0 217.7 L163.5 219.7 L164.0 221.6 L164.5 223.6 L165.0 225.6 L165.5 227.6 L166.0 229.6 L166.5 231.6 L167.0 233.6 L167.5 235.7 L168.0 237.8 L168.5 239.9 L169.0 242.0 L169.5 244.2 L170.0 246.5 L170.5 248.8 L171.0 251.1 L171.5 253.5 L172.0 255.8 L172.5 258.0 L173.0 260.2 L173.5 262.4 L174.0 264.6 L174.5 266.8 L175.0 268.9 L175.5 271.1 L176.0 273.3 L176.5 275.5 L177.0 277.6 L177.5 279.8 L178.0 281.9 L178.5 284.1 L179.0 286.2 L179.5 288.3 L180.0 290.4 L180.5 292.6 L181.0 294.7 L181.5 296.7 L182.0 298.8 L182.5 300.9 L183.0 302.9 L183.5 305.0 L184.0 307.0 L184.5 309.0 L185.0 311.0 L185.5 313.0 L186.0 314.9 L186.5 316.9 L187.0 318.8 L187.5 320.7 L188.0 322.6 L188.5 324.5 L189.0 326.4 L189.5 328.2 L190.0 330.0 L190.5 331.8 L191.0 333.6 L191.5 335.4 L192.0 337.2 L192.5 339.0 L193.0 340.8 L193.5 342.6 L194.0 344.3 L194.5 346.1 L195.0 347.9 L195.5 349.6 L196.0 351.4 L196.5 353.1 L197.0 354.9 L197.5 356.6 L198.0 358.3 L198.5 360.0 L199.0 361.7 L199.5 363.4 L200.0 365.1 L200.5 366.7 L201.0 368.4 L201.5 370.0 L202.0 371.6 L202.5 373.2 L203.0 374.8 L203.5 376.4 L204.0 377.9 L204.5 379.5 L205.0 381.0 L205.5 382.5 L206.0 384.0 L206.5 385.4 L207.0 386.9 L207.5 388.3 L208.0 389.7 L208.5 391.0 L209.0 392.4 L209.5 393.7 L210.0 395.0 L210.5 396.3 L211.0 397.6 L211.5 398.8 L212.0 400.0 L212.5 401.2 L213.0 402.3 L213.5 403.4 L214.0 404.5 L214.5 405.6 L215.0 406.6 L215.5 407.7 L216.0 408.7 L216.5 409.7 L217.0 410.6 L217.5 411.6 L218.0 412.5 L218.5 413.5 L219.0 414.4 L219.5 415.3 L220.0 416.2 L220.5 417.1 L221.0 418.0 L221.5 418.9 L222.0 419.8 L222.5 420.8 L223.0 421.7 L223.5 422.6 L224.0 423.6 L224.5 424.5 L225.0 425.4 L225.5 426.2 L226.0 427.1 L226.5 427.9 L227.0 428.6 L227.5 429.3 L228.0 429.9 L228.5 430.5 L229.0 431.0 L229.5 431.5 L230.0 431.9 L230.5 432.4 L231.0 432.8 L231.5 433.3 L232.0 433.7 L232.5 434.0 L233.0 434.4 L233.5 434.7 L234.0 435.0 L234.5 435.2 L235.0 435.4 L235.5 435.5 L236.0 435.5 L236.5 435.5 L237.0 435.5 L237.5 435.5 L238.0 435.5 L238.5 435.4 L239.0 435.4 L239.5 435.4 L240.0 435.4 L240.5 435.3 L241.0 435.3 L241.5 435.2 L242.0 435.2 L242.5 435.2 L243.0 435.1 L243.5 435.1 L244.0 435.0 L244.5 434.9 L245.0 434.8 L245.5 434.7 L246.0 434.5 L246.5 434.3 L247.0 434.1 L247.5 433.9 L248.0 433.6 L248.5 433.3 L249.0 433.0 L249.5 432.7 L250.0 432.4 L250.5 432.1 L251.0 431.7 L251.5 431.4 L252.0 431.0 L252.5 430.6 L253.0 430.2 L253.5 429.7 L254.0 429.2 L254.5 428.6 L255.0 428.0 L255.5 427.3 L256.0 426.7 L256.5 425.9 L257.0 425.2 L257.5 424.5 L258.0 423.7 L258.5 422.9 L259.0 422.1 L259.5 421.3 L261.0 418.9 L263.0 415.7 L265.0 412.8 L267.0 409.7 L269.0 406.5 L271.0 403.4 L273.0 400.2 L275.0 397.0 L277.0 393.8 L279.0 390.8 L281.0 387.8 L283.0 384.9 L285.0 382.2 L287.0 379.4 L289.0 376.7 L291.0 374.0 L293.0 371.2 L295.0 368.4 L297.0 365.5 L299.0 362.4 L301.0 359.1 L303.0 355.5 L305.0 352.5 L307.0 349.7 L309.0 347.0 L311.0 344.5 L313.0 342.1 L315.0 339.9 L317.0 337.8 L319.0 335.9 L321.0 334.1 L323.0 332.5 L325.0 331.0 L327.0 329.6 L329.0 328.2 L331.0 327.0 L333.0 325.7 L335.0 324.5 L337.0 323.3 L339.0 322.1 L341.0 320.9 L343.0 319.7 L345.0 318.5 L347.0 317.4 L349.0 316.3 L351.0 315.2 L353.0 314.1 L355.0 313.0 L357.0 312.0 L359.0 311.0 L361.0 310.0 L363.0 309.1 L365.0 308.2 L367.0 307.3 L369.0 306.4 L371.0 305.6 L373.0 304.7 L375.0 303.8 L377.0 303.0 L379.0 302.1 L381.0 301.4 L383.0 300.6 L385.0 300.0 L387.0 299.4 L389.0 299.0 L391.0 298.5 L393.0 298.1 L395.0 297.7 L397.0 297.2 L399.0 296.8 L401.0 296.2 L403.0 295.7 L405.0 295.1 L407.0 294.5 L409.0 293.8 L411.0 293.2 L413.0 292.5 L415.0 291.9 L417.0 291.2 L419.0 290.6 L421.0 290.0 L423.0 289.4 L425.0 288.8 L427.0 288.2 L429.0 287.7 L431.0 287.3 L433.0 286.9 L435.0 286.5 L437.0 286.1 L439.0 285.8 L441.0 285.5 L443.0 285.2 L445.0 284.9 L447.0 284.6 L449.0 284.3 L451.0 283.9 L453.0 283.6 L455.0 283.2 L457.0 282.7 L459.0 282.3 L461.0 281.7 L463.0 281.1 L465.0 280.3 L467.0 279.5 L469.0 278.7 L471.0 277.8 L473.0 276.9 L475.0 276.0 L477.0 275.1 L479.0 274.1 L481.0 273.0 L483.0 272.0 L485.0 271.0 L487.0 270.1 L489.0 269.3 L491.0 268.7 L493.0 268.1 L495.0 267.6 L497.0 267.1 L499.0 266.6 L501.0 266.2 L503.0 265.8 L505.0 265.4 L507.0 265.0 L509.0 264.6 L511.0 264.2 L513.0 263.9 L515.0 263.5 L517.0 263.1 L519.0 262.8 L521.0 262.4 L523.0 262.1 L525.0 261.7 L527.0 261.4 L529.0 261.1 L531.0 260.8 L533.0 260.6 L535.0 260.4 L537.0 260.2 L539.0 260.0 L541.0 259.8 L543.0 259.6 L545.0 259.5 L547.0 259.4 L549.0 259.3 L551.0 259.3 L553.0 259.2 L555.0 259.2 L557.0 259.1 L559.0 259.1 L561.0 259.0 L563.0 258.9 L565.0 258.9 L567.0 258.8 L569.0 258.7 L571.0 258.6 L573.0 258.5 L575.0 258.4 L577.0 258.3 L579.0 258.2 L581.0 258.1 L583.0 258.0 L585.0 257.9 L587.0 257.8 L589.0 257.6 L591.0 257.5 L593.0 257.4 L595.0 257.3 L597.0 257.3 L599.0 257.2 L601.0 257.1 L603.0 257.1 L605.0 257.1 L607.0 257.0 L609.0 257.0 L611.0 257.0 L613.0 256.9 L615.0 256.9 L617.0 256.9 L619.0 256.9 L621.0 256.8 L623.0 256.8 L625.0 256.8 L627.0 256.8 L629.0 256.8 L631.0 256.9 L633.0 256.9 L635.0 256.9 L637.0 256.9 L639.0 257.0 L641.0 257.0 L643.0 257.0 L645.0 257.1 L647.0 257.1 L649.0 257.1 L651.0 257.2 L653.0 257.2 L655.0 257.3 L657.0 257.4 L659.0 257.4 L661.0 257.5 L663.0 257.6 L665.0 257.7 L667.0 257.8 L669.0 257.9 L671.0 258.0 L673.0 258.1 L675.0 258.2 L677.0 258.3 L679.0 258.4 L681.0 258.5 L683.0 258.6 L685.0 258.7 L687.0 258.8 L689.0 258.9 L691.0 259.0 L693.0 259.1 L695.0 259.2 L697.0 259.3 L699.0 259.4 L701.0 259.5 L703.0 259.6 L705.0 259.7 L707.0 259.9"/>
<path d="M87.0 21.7 L87.5 21.7 L88.0 21.7 L88.5 21.7 L89.0 21.7 L89.5 21.7 L90.0 21.7 L90.5 21.7 L91.0 21.7 L91.5 21.7 L92.0 21.7 L92.5 21.7 L93.0 21.7 L93.5 21.7 L94.0 21.7 L94.5 21.7 L95.0 21.7 L95.5 21.7 L96.0 21.7 L96.5 21.7 L97.0 21.7 L97.5 21.7 L98.0 21.7 L98.5 21.7 L99.0 21.7 L99.5 21.7 L100.0 21.7 L100.5 21.7 L101.0 21.7 L101.5 21.7 L102.0 21.7 L102.5 21.7 L103.0 21.7 L103.5 21.7 L104.0 21.7 L104.5 21.7 L105.0 21.8 L105.5 22.0 L106.0 22.1 L106.5 22.4 L107.0 22.6 L107.5 22.9 L108.0 23.2 L108.5 23.6 L109.0 23.9 L109.5 24.3 L110.0 24.7 L110.5 25.1 L111.0 25.4 L111.5 25.8 L112.0 26.2 L112.5 26.6 L113.0 27.0 L113.5 27.4 L114.0 27.8 L114.5 28.3 L115.0 28.8 L115.5 29.3 L116.0 29.8 L116.5 30.3 L117.0 30.8 L117.5 31.4 L118.0 32.0 L118.5 32.6 L119.0 33.2 L119.5 33.8 L120.0 34.4 L120.5 35.1 L121.0 35.7 L121.5 36.4 L122.0 37.1 L122.5 37.8 L123.0 38.5 L123.5 39.3 L124.0 40.1 L124.5 41.0 L125.0 41.8 L125.5 42.7 L126.0 43.7 L126.5 44.6 L127.0 45.6 L127.5 46.6 L128.0 47.6 L128.5 48.7 L129.0 49.7 L129.5 50.8 L130.0 51.8 L130.5 52.9 L131.0 53.9 L131.5 55.0 L132.0 56.1 L132.5 57.2 L133.0 58.3 L133.5 59.4 L134.0 60.5 L134.5 61.7 L135.0 62.9 L135.5 64.1 L136.0 65.3 L136.5 66.6 L137.0 67.8 L137.5 69.2 L138.0 70.5 L138.5 71.9 L139.0 73.3 L139.5 74.8 L140.0 76.3 L140.5 78.0 L141.0 79.7 L141.5 81.4 L142.0 83.2 L142.5 85.0 L143.0 86.8 L143.5 88.6 L144.0 90.5 L144.5 92.2 L145.0 94.0 L145.5 95.7 L146.0 97.5 L146.5 99.2 L147.0 101.0 L147.5 102.7 L148.0 104.5 L148.5 106.2 L149.0 108.0 L149.5 109.7 L150.0 111.5 L150.5 113.3 L151.0 115.2 L151.5 117.0 L152.0 118.9 L152.5 120.8 L153.0 122.7 L153.5 124.6 L154.0 126.6 L154.5 128.6 L155.0 130.7 L155.5 132.7 L156.0 134.7 L156.5 136.8 L157.0 138.8 L157.5 140.8 L158.0 142.8 L158.5 144.8 L159.0 146.9 L159.5 148.9 L160.0 150.9 L160.5 152.9 L161.0 154.9 L161.5 156.9 L162.0 158.8 L162.5 160.8 L163.0 162.6 L163.5 164.4 L164.0 166.2 L164.5 168.0 L165.0 169.7 L165.5 171.4 L166.0 173.2 L166.5 175.0 L167.0 176.8 L167.5 178.7 L168.0 180.7 L168.5 182.8 L169.0 185.0 L169.5 187.4 L170.0 190.1 L170.5 192.9 L171.0 195.8 L171.5 198.7 L172.0 201.4 L172.5 204.0 L173.0 206.5 L173.5 209.0 L174.0 211.4 L174.5 213.7 L175.0 216.1 L175.5 218.4 L176.0 220.7 L176.5 223.0 L177.0 225.3 L177.5 227.6 L178.0 229.8 L178.5 232.0 L179.0 234.2 L179.5 236.4 L180.0 238.7 L180.5 241.0 L181.0 243.5 L181.5 246.2 L182.0 249.1 L182.5 251.9 L183.0 254.8 L183.5 257.5 L184.0 260.0 L184.5 262.3 L185.0 264.6 L185.5 266.7 L186.0 268.9 L186.5 270.9 L187.0 272.9 L187.5 274.9 L188.0 276.8 L188.5 278.7 L189.0 280.6 L189.5 282.5 L190.0 284.4 L190.5 286.3 L191.0 288.2 L191.5 290.2 L192.0 292.1 L192.5 294.1 L193.0 296.1 L193.5 298.1 L194.0 300.1 L194.5 302.1 L195.0 304.0 L195.5 306.0 L196.0 308.0 L196.5 310.0 L197.0 312.0 L197.5 314.0 L198.0 315.9 L198.5 317.9 L199.0 319.9 L199.5 321.9 L200.0 323.9 L200.5 325.9 L201.0 327.9 L201.5 330.0 L202.0 332.1 L202.5 334.2 L203.0 336.3 L203.5 338.5 L204.0 340.6 L204.5 342.7 L205.0 344.7 L205.5 346.7 L206.0 348.7 L206.5 350.5 L207.0 352.3 L207.5 354.0 L208.0 355.5 L208.5 357.1 L209.0 358.6 L209.5 360.0 L210.0 361.4 L210.5 362.8 L211.0 364.1 L211.5 365.4 L212.0 366.8 L212.5 368.1 L213.0 369.4 L213.5 370.7 L214.0 372.0 L214.5 373.3 L215.0 374.6 L215.5 375.9 L216.0 377.2 L216.5 378.5 L217.0 379.7 L217.5 381.0 L218.0 382.2 L218.5 383.5 L219.0 384.7 L219.5 385.9 L220.0 387.2 L220.5 388.4 L221.0 389.7 L221.5 391.0 L222.0 392.2 L222.5 393.5 L223.0 394.8 L223.5 396.0 L224.0 397.3 L224.5 398.5 L225.0 399.8 L225.5 401.0 L226.0 402.2 L226.5 403.5 L227.0 404.8 L227.5 406.1 L228.0 407.4 L228.5 408.7 L229.0 410.1 L229.5 411.5 L230.0 412.9 L230.5 414.4 L231.0 415.9 L231.5 417.6 L232.0 419.3 L232.5 421.1 L233.0 422.9 L233.5 424.7 L234.0 426.6 L234.5 428.6 L235.0 430.6 L235.5 432.5 L236.0 434.0 L236.5 435.4 L237.0 436.8 L237.5 438.0 L238.0 438.9 L238.5 439.2 L239.0 439.2 L239.5 439.1 L240.0 439.0 L240.5 438.9 L241.0 438.7 L241.5 438.5 L242.0 438.2 L242.5 437.7 L243.0 437.0 L243.5 436.3 L244.0 435.6 L244.5 434.9 L245.0 434.5 L245.5 434.2 L246.0 433.9 L246.5 433.6 L247.0 433.4 L247.5 433.1 L248.0 432.9 L248.5 432.8 L249.0 432.6 L249.5 432.5 L250.0 432.3 L250.5 432.2 L251.0 432.1 L251.5 432.0 L252.0 431.9 L252.5 431.9 L253.0 431.8 L253.5 431.7 L254.0 431.6 L254.5 431.5 L255.0 431.5 L255.5 431.4 L256.0 431.3 L256.5 431.1 L257.0 431.0 L257.5 430.8 L258.0 430.7 L258.5 430.5 L259.0 430.3 L259.5 430.1 L261.0 429.4 L263.0 428.3 L265.0 427.0 L267.0 425.2 L269.0 423.0 L271.0 420.9 L273.0 418.9 L275.0 416.9 L277.0 414.9 L279.0 412.8 L281.0 410.7 L283.0 408.4 L285.0 405.7 L287.0 402.7 L289.0 399.5 L291.0 396.2 L293.0 393.0 L295.0 390.0 L297.0 387.2 L299.0 384.6 L301.0 382.0 L303.0 379.4 L305.0 377.0 L307.0 374.7 L309.0 372.4 L311.0 370.3 L313.0 368.2 L315.0 366.2 L317.0 364.2 L319.0 362.1 L321.0 360.0 L323.0 357.8 L325.0 355.5 L327.0 353.2 L329.0 351.0 L331.0 349.0 L333.0 347.1 L335.0 345.3 L337.0 343.6 L339.0 341.9 L341.0 340.1 L343.0 338.3 L345.0 336.4 L347.0 334.6 L349.0 332.9 L351.0 331.4 L353.0 330.2 L355.0 329.1 L357.0 328.1 L359.0 327.2 L361.0 326.3 L363.0 325.5 L365.0 324.7 L367.0 324.0 L369.0 323.3 L371.0 322.6 L373.0 322.0 L375.0 321.4 L377.0 320.8 L379.0 320.2 L381.0 319.6 L383.0 319.1 L385.0 318.5 L387.0 318.0 L389.0 317.5 L391.0 317.0 L393.0 316.6 L395.0 316.2 L397.0 315.8 L399.0 315.4 L401.0 314.9 L403.0 314.5 L405.0 314.0 L407.0 313.4 L409.0 312.8 L411.0 312.2 L413.0 311.5 L415.0 310.7 L417.0 310.0 L419.0 309.2 L421.0 308.4 L423.0 307.6 L425.0 306.8 L427.0 306.1 L429.0 305.3 L431.0 304.7 L433.0 304.0 L435.0 303.3 L437.0 302.7 L439.0 302.0 L441.0 301.4 L443.0 300.7 L445.0 300.1 L447.0 299.4 L449.0 298.8 L451.0 298.1 L453.0 297.4 L455.0 296.8 L457.0 296.1 L459.0 295.4 L461.0 294.7 L463.0 294.0 L465.0 293.3 L467.0 292.6 L469.0 291.9 L471.0 291.1 L473.0 290.4 L475.0 289.7 L477.0 288.9 L479.0 288.1 L481.0 287.4 L483.0 286.6 L485.0 285.8 L487.0 285.0 L489.0 284.2 L491.0 283.4 L493.0 282.6 L495.0 281.7 L497.0 280.8 L499.0 280.0 L501.0 279.1 L503.0 278.3 L505.0 277.4 L507.0 276.6 L509.0 275.7 L511.0 274.9 L513.0 274.1 L515.0 273.3 L517.0 272.5 L519.0 271.7 L521.0 270.9 L523.0 270.1 L525.0 269.4 L527.0 268.6 L529.0 267.8 L531.0 267.1 L533.0 266.3 L535.0 265.6 L537.0 265.0 L539.0 264.4 L541.0 264.0 L543.0 263.5 L545.0 263.0 L547.0 262.6 L549.0 262.3 L551.0 262.1 L553.0 261.9 L555.0 261.8 L557.0 261.7 L559.0 261.6 L561.0 261.6 L563.0 261.5 L565.0 261.5 L567.0 261.5 L569.0 261.5 L571.0 261.5 L573.0 261.5 L575.0 261.5 L577.0 261.5 L579.0 261.5 L581.0 261.5 L583.0 261.5 L585.0 261.6 L587.0 261.6 L589.0 261.7 L591.0 261.7 L593.0 261.8 L595.0 261.9 L597.0 261.9 L599.0 262.0 L601.0 262.0 L603.0 262.1 L605.0 262.1 L607.0 262.1 L609.0 262.2 L611.0 262.2 L613.0 262.3 L615.0 262.3 L617.0 262.3 L619.0 262.4 L621.0 262.4 L623.0 262.5 L625.0 262.5 L627.0 262.5 L629.0 262.6 L631.0 262.6 L633.0 262.6 L635.0 262.7 L637.0 262.7 L639.0 262.7 L641.0 262.8 L643.0 262.8 L645.0 262.9 L647.0 262.9 L649.0 263.0 L651.0 263.0 L653.0 263.1 L655.0 263.3 L657.0 263.4 L659.0 263.6 L661.0 263.8 L663.0 264.0 L665.0 264.2 L667.0 264.4 L669.0 264.6 L671.0 264.9 L673.0 265.1 L675.0 265.4 L677.0 265.6 L679.0 265.9 L681.0 266.1 L683.0 266.4 L685.0 266.6 L687.0 266.9 L689.0 267.2 L691.0 267.5 L693.0 267.8 L695.0 268.1 L697.0 268.4 L699.0 268.7 L701.0 269.0 L703.0 269.3 L705.0 269.7 L707.0 270.0"/>
</g>
<line x1="95.5" y1="241.75" x2="707.5" y2="241.75" stroke="#000" stroke-width="1.5" stroke-dasharray="4 4"/>
<rect x="86.7" y="7.3" width="621" height="502.8" fill="none" stroke="#000" stroke-width="1.8"/>
<g stroke="#000" stroke-width="1.6">
<line x1="87" y1="109.8" x2="95" y2="109.8"/>
<line x1="87" y1="242.0" x2="95" y2="242.0"/>
<line x1="87" y1="377.0" x2="95" y2="377.0"/>
<line x1="87" y1="41.6" x2="91" y2="41.6"/>
<line x1="87" y1="177.0" x2="91" y2="177.0"/>
<line x1="87" y1="309.5" x2="91" y2="309.5"/>
<line x1="87" y1="445.0" x2="91" y2="445.0"/>
<line x1="231.0" y1="510" x2="231.0" y2="499"/>
<line x1="421.8" y1="510" x2="421.8" y2="499"/>
<line x1="612.6" y1="510" x2="612.6" y2="499"/>
<line x1="134.7" y1="510" x2="134.7" y2="506"/>
<line x1="326.0" y1="510" x2="326.0" y2="506"/>
<line x1="517.0" y1="510" x2="517.0" y2="506"/>
</g>
<line x1="239.8" y1="248" x2="239.8" y2="302.3" stroke="#000" stroke-width="1.7"/>
<polygon points="239.8,243.5 234,250.5 245.6,250.5" fill="#000"/>
<text transform="translate(221,237.3) scale(1,1.085)" font-family="Liberation Sans, sans-serif" font-size="18.5" fill="#000">100%</text>
<text transform="translate(234.6,321.5) scale(0.95,1.085)" font-family="Liberation Sans, sans-serif" font-size="18.5" fill="#000">0</text>
<text id="yl1" transform="translate(17,241.4) rotate(-90)" text-anchor="middle" font-family="Liberation Serif, serif" font-size="19.3" letter-spacing="-0.3" fill="#000">[θ]</text>
<text id="yl2" transform="translate(37.8,240.7) rotate(-90)" text-anchor="middle" font-family="Liberation Serif, serif" font-size="19.3" letter-spacing="-0.15" fill="#000">deg cm<tspan font-size="12.5" dy="-9.3">2</tspan><tspan dy="9.3">dmol</tspan><tspan font-size="12.5" dy="-9.3">-1</tspan></text>
</svg>
<div class="lab yl" style="top:0.7px">35000</div>
<div class="lab yl" style="top:103.2px">20000</div>
<div class="lab yl" style="top:236.55px">0</div>
<div class="lab yl" style="top:371.55px">-20000</div>
<div class="lab yl" style="top:504.55px">-40000</div>
<div class="lab xl" style="left:55px;top:523.9px">185</div>
<div class="lab xl" style="left:200px;top:523.9px">200</div>
<div class="lab xl" style="left:390.5px;top:523.9px">220</div>
<div class="lab xl" style="left:581.5px;top:523.9px">240</div>
<div class="lab xl" style="left:676.3px;top:523.9px">250</div>
<div class="lab" style="left:343.4px;top:545.2px;font-size:14px;line-height:14px;letter-spacing:0.22px">Wavelength[nm]</div>
</body>
</html>
